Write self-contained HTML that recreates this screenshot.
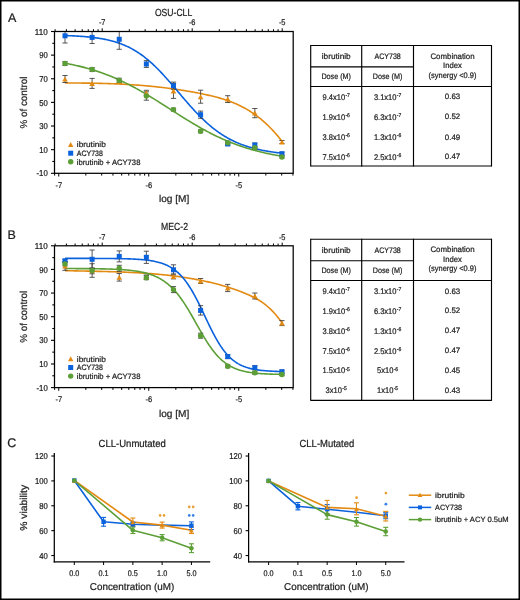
<!DOCTYPE html>
<html><head><meta charset="utf-8"><style>
html,body{margin:0;padding:0;background:#fff;overflow:hidden;width:520px;height:600px;}
svg{display:block;filter:blur(0.3px);}
text{font-family:"Liberation Sans",sans-serif;text-rendering:geometricPrecision;stroke:#222;stroke-width:0.22px;}
</style></head><body>
<svg width="520" height="600" viewBox="0 0 520 600">
<rect width="520" height="600" fill="#fff"/>
<rect x="0.75" y="0.75" width="518.5" height="598.5" fill="none" stroke="#000" stroke-width="1.5"/>
<text x="7.90" y="21.70" font-size="12.5" text-anchor="start" fill="#1a1a1a" >A</text>
<text x="154.90" y="15.80" font-size="10.3" text-anchor="start" fill="#1a1a1a" textLength="37.30" lengthAdjust="spacingAndGlyphs" >OSU-CLL</text>
<line x1="51.00" y1="173.30" x2="54.50" y2="173.30" stroke="#000" stroke-width="1.1"/>
<text x="47.70" y="176.45" font-size="8.6" text-anchor="end" fill="#1a1a1a" textLength="11.23" lengthAdjust="spacingAndGlyphs" >-10</text>
<line x1="52.30" y1="161.48" x2="54.50" y2="161.48" stroke="#000" stroke-width="1.1"/>
<line x1="51.00" y1="149.67" x2="54.50" y2="149.67" stroke="#000" stroke-width="1.1"/>
<text x="47.70" y="152.82" font-size="8.6" text-anchor="end" fill="#1a1a1a" textLength="8.56" lengthAdjust="spacingAndGlyphs" >10</text>
<line x1="52.30" y1="137.85" x2="54.50" y2="137.85" stroke="#000" stroke-width="1.1"/>
<line x1="51.00" y1="126.03" x2="54.50" y2="126.03" stroke="#000" stroke-width="1.1"/>
<text x="47.70" y="129.18" font-size="8.6" text-anchor="end" fill="#1a1a1a" textLength="8.56" lengthAdjust="spacingAndGlyphs" >30</text>
<line x1="52.30" y1="114.22" x2="54.50" y2="114.22" stroke="#000" stroke-width="1.1"/>
<line x1="51.00" y1="102.40" x2="54.50" y2="102.40" stroke="#000" stroke-width="1.1"/>
<text x="47.70" y="105.55" font-size="8.6" text-anchor="end" fill="#1a1a1a" textLength="8.56" lengthAdjust="spacingAndGlyphs" >50</text>
<line x1="52.30" y1="90.58" x2="54.50" y2="90.58" stroke="#000" stroke-width="1.1"/>
<line x1="51.00" y1="78.77" x2="54.50" y2="78.77" stroke="#000" stroke-width="1.1"/>
<text x="47.70" y="81.92" font-size="8.6" text-anchor="end" fill="#1a1a1a" textLength="8.56" lengthAdjust="spacingAndGlyphs" >70</text>
<line x1="52.30" y1="66.95" x2="54.50" y2="66.95" stroke="#000" stroke-width="1.1"/>
<line x1="51.00" y1="55.13" x2="54.50" y2="55.13" stroke="#000" stroke-width="1.1"/>
<text x="47.70" y="58.28" font-size="8.6" text-anchor="end" fill="#1a1a1a" textLength="8.56" lengthAdjust="spacingAndGlyphs" >90</text>
<line x1="52.30" y1="43.32" x2="54.50" y2="43.32" stroke="#000" stroke-width="1.1"/>
<line x1="51.00" y1="31.50" x2="54.50" y2="31.50" stroke="#000" stroke-width="1.1"/>
<text x="47.70" y="34.65" font-size="8.6" text-anchor="end" fill="#1a1a1a" textLength="12.84" lengthAdjust="spacingAndGlyphs" >110</text>
<line x1="55.14" y1="29.20" x2="55.14" y2="31.50" stroke="#000" stroke-width="1.0"/>
<line x1="66.39" y1="29.20" x2="66.39" y2="31.50" stroke="#000" stroke-width="1.0"/>
<line x1="75.11" y1="29.20" x2="75.11" y2="31.50" stroke="#000" stroke-width="1.0"/>
<line x1="82.23" y1="29.20" x2="82.23" y2="31.50" stroke="#000" stroke-width="1.0"/>
<line x1="88.26" y1="29.20" x2="88.26" y2="31.50" stroke="#000" stroke-width="1.0"/>
<line x1="93.48" y1="29.20" x2="93.48" y2="31.50" stroke="#000" stroke-width="1.0"/>
<line x1="98.08" y1="29.20" x2="98.08" y2="31.50" stroke="#000" stroke-width="1.0"/>
<line x1="102.20" y1="28.30" x2="102.20" y2="31.50" stroke="#000" stroke-width="1.0"/>
<line x1="129.29" y1="29.20" x2="129.29" y2="31.50" stroke="#000" stroke-width="1.0"/>
<line x1="145.14" y1="29.20" x2="145.14" y2="31.50" stroke="#000" stroke-width="1.0"/>
<line x1="156.39" y1="29.20" x2="156.39" y2="31.50" stroke="#000" stroke-width="1.0"/>
<line x1="165.11" y1="29.20" x2="165.11" y2="31.50" stroke="#000" stroke-width="1.0"/>
<line x1="172.23" y1="29.20" x2="172.23" y2="31.50" stroke="#000" stroke-width="1.0"/>
<line x1="178.26" y1="29.20" x2="178.26" y2="31.50" stroke="#000" stroke-width="1.0"/>
<line x1="183.48" y1="29.20" x2="183.48" y2="31.50" stroke="#000" stroke-width="1.0"/>
<line x1="188.08" y1="29.20" x2="188.08" y2="31.50" stroke="#000" stroke-width="1.0"/>
<line x1="192.20" y1="28.30" x2="192.20" y2="31.50" stroke="#000" stroke-width="1.0"/>
<line x1="219.29" y1="29.20" x2="219.29" y2="31.50" stroke="#000" stroke-width="1.0"/>
<line x1="235.14" y1="29.20" x2="235.14" y2="31.50" stroke="#000" stroke-width="1.0"/>
<line x1="246.39" y1="29.20" x2="246.39" y2="31.50" stroke="#000" stroke-width="1.0"/>
<line x1="255.11" y1="29.20" x2="255.11" y2="31.50" stroke="#000" stroke-width="1.0"/>
<line x1="262.23" y1="29.20" x2="262.23" y2="31.50" stroke="#000" stroke-width="1.0"/>
<line x1="268.26" y1="29.20" x2="268.26" y2="31.50" stroke="#000" stroke-width="1.0"/>
<line x1="273.48" y1="29.20" x2="273.48" y2="31.50" stroke="#000" stroke-width="1.0"/>
<line x1="278.08" y1="29.20" x2="278.08" y2="31.50" stroke="#000" stroke-width="1.0"/>
<line x1="282.20" y1="28.30" x2="282.20" y2="31.50" stroke="#000" stroke-width="1.0"/>
<text x="102.20" y="25.40" font-size="8.2" text-anchor="middle" fill="#1a1a1a" textLength="6.63" lengthAdjust="spacingAndGlyphs" >-7</text>
<text x="192.20" y="25.40" font-size="8.2" text-anchor="middle" fill="#1a1a1a" textLength="6.63" lengthAdjust="spacingAndGlyphs" >-6</text>
<text x="282.20" y="25.40" font-size="8.2" text-anchor="middle" fill="#1a1a1a" textLength="6.63" lengthAdjust="spacingAndGlyphs" >-5</text>
<line x1="54.63" y1="173.30" x2="54.63" y2="175.60" stroke="#000" stroke-width="1.0"/>
<line x1="58.75" y1="173.30" x2="58.75" y2="176.50" stroke="#000" stroke-width="1.0"/>
<line x1="85.84" y1="173.30" x2="85.84" y2="175.60" stroke="#000" stroke-width="1.0"/>
<line x1="101.69" y1="173.30" x2="101.69" y2="175.60" stroke="#000" stroke-width="1.0"/>
<line x1="112.94" y1="173.30" x2="112.94" y2="175.60" stroke="#000" stroke-width="1.0"/>
<line x1="121.66" y1="173.30" x2="121.66" y2="175.60" stroke="#000" stroke-width="1.0"/>
<line x1="128.78" y1="173.30" x2="128.78" y2="175.60" stroke="#000" stroke-width="1.0"/>
<line x1="134.81" y1="173.30" x2="134.81" y2="175.60" stroke="#000" stroke-width="1.0"/>
<line x1="140.03" y1="173.30" x2="140.03" y2="175.60" stroke="#000" stroke-width="1.0"/>
<line x1="144.63" y1="173.30" x2="144.63" y2="175.60" stroke="#000" stroke-width="1.0"/>
<line x1="148.75" y1="173.30" x2="148.75" y2="176.50" stroke="#000" stroke-width="1.0"/>
<line x1="175.84" y1="173.30" x2="175.84" y2="175.60" stroke="#000" stroke-width="1.0"/>
<line x1="191.69" y1="173.30" x2="191.69" y2="175.60" stroke="#000" stroke-width="1.0"/>
<line x1="202.94" y1="173.30" x2="202.94" y2="175.60" stroke="#000" stroke-width="1.0"/>
<line x1="211.66" y1="173.30" x2="211.66" y2="175.60" stroke="#000" stroke-width="1.0"/>
<line x1="218.78" y1="173.30" x2="218.78" y2="175.60" stroke="#000" stroke-width="1.0"/>
<line x1="224.81" y1="173.30" x2="224.81" y2="175.60" stroke="#000" stroke-width="1.0"/>
<line x1="230.03" y1="173.30" x2="230.03" y2="175.60" stroke="#000" stroke-width="1.0"/>
<line x1="234.63" y1="173.30" x2="234.63" y2="175.60" stroke="#000" stroke-width="1.0"/>
<line x1="238.75" y1="173.30" x2="238.75" y2="176.50" stroke="#000" stroke-width="1.0"/>
<line x1="265.84" y1="173.30" x2="265.84" y2="175.60" stroke="#000" stroke-width="1.0"/>
<line x1="281.69" y1="173.30" x2="281.69" y2="175.60" stroke="#000" stroke-width="1.0"/>
<line x1="292.94" y1="173.30" x2="292.94" y2="175.60" stroke="#000" stroke-width="1.0"/>
<text x="58.75" y="187.60" font-size="8.2" text-anchor="middle" fill="#1a1a1a" textLength="6.63" lengthAdjust="spacingAndGlyphs" >-7</text>
<text x="148.75" y="187.60" font-size="8.2" text-anchor="middle" fill="#1a1a1a" textLength="6.63" lengthAdjust="spacingAndGlyphs" >-6</text>
<text x="238.75" y="187.60" font-size="8.2" text-anchor="middle" fill="#1a1a1a" textLength="6.63" lengthAdjust="spacingAndGlyphs" >-5</text>
<text x="158.90" y="202.20" font-size="10" text-anchor="start" fill="#1a1a1a" textLength="30.30" lengthAdjust="spacingAndGlyphs" >log [M]</text>
<text transform="translate(27.3,102.50) rotate(-90)" font-size="10" text-anchor="middle" fill="#1a1a1a" textLength="52" lengthAdjust="spacingAndGlyphs">% of control</text>
<clipPath id="clip0"><rect x="54.5" y="31.5" width="238.70" height="141.80"/></clipPath><g clip-path="url(#clip0)">
<polyline points="65.00,83.06 66.00,83.05 67.00,83.05 68.00,83.05 69.00,83.05 70.00,83.04 71.00,83.04 72.00,83.04 73.00,83.04 74.00,83.05 75.00,83.05 76.00,83.05 77.00,83.05 78.00,83.06 79.00,83.06 80.00,83.07 81.00,83.07 82.00,83.08 83.00,83.09 84.00,83.10 85.00,83.11 86.00,83.12 87.00,83.13 88.00,83.14 89.00,83.15 90.00,83.17 91.00,83.18 92.00,83.20 93.00,83.22 94.00,83.23 95.00,83.25 96.00,83.27 97.00,83.29 98.00,83.31 99.00,83.34 100.00,83.36 101.00,83.38 102.00,83.41 103.00,83.44 104.00,83.46 105.00,83.49 106.00,83.52 107.00,83.55 108.00,83.59 109.00,83.62 110.00,83.65 111.00,83.69 112.00,83.73 113.00,83.76 114.00,83.80 115.00,83.84 116.00,83.89 117.00,83.93 118.00,83.97 119.00,84.02 120.00,84.07 121.00,84.12 122.00,84.17 123.00,84.22 124.00,84.27 125.00,84.32 126.00,84.38 127.00,84.44 128.00,84.49 129.00,84.55 130.00,84.61 131.00,84.68 132.00,84.74 133.00,84.81 134.00,84.87 135.00,84.94 136.00,85.01 137.00,85.09 138.00,85.16 139.00,85.23 140.00,85.31 141.00,85.39 142.00,85.47 143.00,85.55 144.00,85.63 145.00,85.72 146.00,85.81 147.00,85.89 148.00,85.99 149.00,86.08 150.00,86.17 151.00,86.27 152.00,86.36 153.00,86.46 154.00,86.56 155.00,86.67 156.00,86.77 157.00,86.88 158.00,86.99 159.00,87.10 160.00,87.21 161.00,87.32 162.00,87.44 163.00,87.56 164.00,87.68 165.00,87.80 166.00,87.92 167.00,88.05 168.00,88.18 169.00,88.31 170.00,88.44 171.00,88.57 172.00,88.71 173.00,88.85 174.00,88.99 175.00,89.13 176.00,89.27 177.00,89.42 178.00,89.57 179.00,89.72 180.00,89.87 181.00,90.03 182.00,90.19 183.00,90.35 184.00,90.51 185.00,90.68 186.00,90.84 187.00,91.01 188.00,91.18 189.00,91.36 190.00,91.53 191.00,91.71 192.00,91.89 193.00,92.08 194.00,92.26 195.00,92.45 196.00,92.64 197.00,92.83 198.00,93.03 199.00,93.23 200.00,93.43 201.00,93.63 202.00,93.84 203.00,94.04 204.00,94.26 205.00,94.47 206.00,94.68 207.00,94.90 208.00,95.12 209.00,95.35 210.00,95.58 211.00,95.81 212.00,96.05 213.00,96.29 214.00,96.54 215.00,96.79 216.00,97.05 217.00,97.31 218.00,97.58 219.00,97.86 220.00,98.14 221.00,98.43 222.00,98.73 223.00,99.04 224.00,99.35 225.00,99.67 226.00,100.00 227.00,100.34 228.00,100.69 229.00,101.05 230.00,101.41 231.00,101.79 232.00,102.18 233.00,102.58 234.00,102.99 235.00,103.41 236.00,103.84 237.00,104.28 238.00,104.74 239.00,105.20 240.00,105.69 241.00,106.18 242.00,106.69 243.00,107.21 244.00,107.74 245.00,108.29 246.00,108.85 247.00,109.43 248.00,110.02 249.00,110.63 250.00,111.26 251.00,111.90 252.00,112.55 253.00,113.23 254.00,113.92 255.00,114.62 256.00,115.35 257.00,116.09 258.00,116.85 259.00,117.63 260.00,118.43 261.00,119.24 262.00,120.08 263.00,120.93 264.00,121.81 265.00,122.70 266.00,123.62 267.00,124.56 268.00,125.51 269.00,126.49 270.00,127.49 271.00,128.51 272.00,129.56 273.00,130.62 274.00,131.71 275.00,132.83 276.00,133.96 277.00,135.12 278.00,136.31 279.00,137.52 280.00,138.75 281.00,140.01 282.00,141.29" fill="none" stroke="#E38A12" stroke-width="1.6" stroke-linejoin="round" stroke-linecap="butt"/>
<polyline points="65.00,35.55 66.00,35.58 67.00,35.62 68.00,35.65 69.00,35.69 70.00,35.73 71.00,35.78 72.00,35.82 73.00,35.87 74.00,35.92 75.00,35.97 76.00,36.03 77.00,36.08 78.00,36.14 79.00,36.21 80.00,36.27 81.00,36.34 82.00,36.41 83.00,36.49 84.00,36.57 85.00,36.65 86.00,36.74 87.00,36.83 88.00,36.92 89.00,37.02 90.00,37.12 91.00,37.23 92.00,37.34 93.00,37.46 94.00,37.58 95.00,37.71 96.00,37.85 97.00,37.99 98.00,38.13 99.00,38.29 100.00,38.45 101.00,38.61 102.00,38.79 103.00,38.97 104.00,39.16 105.00,39.35 106.00,39.56 107.00,39.77 108.00,39.99 109.00,40.23 110.00,40.47 111.00,40.72 112.00,40.98 113.00,41.25 114.00,41.54 115.00,41.83 116.00,42.14 117.00,42.46 118.00,42.79 119.00,43.13 120.00,43.48 121.00,43.85 122.00,44.24 123.00,44.63 124.00,45.04 125.00,45.47 126.00,45.91 127.00,46.36 128.00,46.84 129.00,47.32 130.00,47.83 131.00,48.35 132.00,48.88 133.00,49.44 134.00,50.01 135.00,50.60 136.00,51.21 137.00,51.83 138.00,52.48 139.00,53.14 140.00,53.82 141.00,54.52 142.00,55.24 143.00,55.98 144.00,56.73 145.00,57.51 146.00,58.30 147.00,59.11 148.00,59.94 149.00,60.79 150.00,61.66 151.00,62.55 152.00,63.45 153.00,64.38 154.00,65.32 155.00,66.27 156.00,67.25 157.00,68.24 158.00,69.24 159.00,70.26 160.00,71.30 161.00,72.35 162.00,73.41 163.00,74.49 164.00,75.58 165.00,76.68 166.00,77.79 167.00,78.91 168.00,80.05 169.00,81.19 170.00,82.34 171.00,83.49 172.00,84.65 173.00,85.82 174.00,86.99 175.00,88.17 176.00,89.35 177.00,90.53 178.00,91.71 179.00,92.89 180.00,94.08 181.00,95.26 182.00,96.43 183.00,97.61 184.00,98.78 185.00,99.94 186.00,101.10 187.00,102.26 188.00,103.40 189.00,104.54 190.00,105.67 191.00,106.79 192.00,107.90 193.00,109.00 194.00,110.09 195.00,111.17 196.00,112.23 197.00,113.28 198.00,114.32 199.00,115.35 200.00,116.36 201.00,117.35 202.00,118.33 203.00,119.30 204.00,120.25 205.00,121.19 206.00,122.11 207.00,123.01 208.00,123.90 209.00,124.77 210.00,125.62 211.00,126.46 212.00,127.28 213.00,128.08 214.00,128.87 215.00,129.64 216.00,130.39 217.00,131.13 218.00,131.85 219.00,132.56 220.00,133.24 221.00,133.92 222.00,134.57 223.00,135.21 224.00,135.84 225.00,136.45 226.00,137.04 227.00,137.62 228.00,138.18 229.00,138.73 230.00,139.26 231.00,139.78 232.00,140.29 233.00,140.78 234.00,141.26 235.00,141.73 236.00,142.18 237.00,142.62 238.00,143.05 239.00,143.46 240.00,143.87 241.00,144.26 242.00,144.64 243.00,145.01 244.00,145.37 245.00,145.71 246.00,146.05 247.00,146.38 248.00,146.70 249.00,147.00 250.00,147.30 251.00,147.59 252.00,147.87 253.00,148.14 254.00,148.40 255.00,148.66 256.00,148.91 257.00,149.14 258.00,149.38 259.00,149.60 260.00,149.82 261.00,150.03 262.00,150.23 263.00,150.43 264.00,150.62 265.00,150.80 266.00,150.98 267.00,151.15 268.00,151.32 269.00,151.48 270.00,151.64 271.00,151.79 272.00,151.93 273.00,152.07 274.00,152.21 275.00,152.34 276.00,152.47 277.00,152.59 278.00,152.71 279.00,152.83 280.00,152.94 281.00,153.05 282.00,153.15" fill="none" stroke="#0B62DD" stroke-width="1.6" stroke-linejoin="round" stroke-linecap="butt"/>
<polyline points="65.00,63.22 66.00,63.40 67.00,63.59 68.00,63.78 69.00,63.97 70.00,64.17 71.00,64.37 72.00,64.58 73.00,64.79 74.00,65.00 75.00,65.22 76.00,65.44 77.00,65.67 78.00,65.90 79.00,66.13 80.00,66.37 81.00,66.62 82.00,66.87 83.00,67.12 84.00,67.38 85.00,67.64 86.00,67.91 87.00,68.19 88.00,68.46 89.00,68.75 90.00,69.04 91.00,69.33 92.00,69.63 93.00,69.93 94.00,70.24 95.00,70.56 96.00,70.88 97.00,71.20 98.00,71.53 99.00,71.87 100.00,72.21 101.00,72.56 102.00,72.92 103.00,73.27 104.00,73.64 105.00,74.01 106.00,74.39 107.00,74.77 108.00,75.16 109.00,75.55 110.00,75.95 111.00,76.36 112.00,76.77 113.00,77.19 114.00,77.61 115.00,78.04 116.00,78.47 117.00,78.91 118.00,79.36 119.00,79.81 120.00,80.27 121.00,80.74 122.00,81.21 123.00,81.68 124.00,82.16 125.00,82.65 126.00,83.14 127.00,83.64 128.00,84.15 129.00,84.66 130.00,85.17 131.00,85.69 132.00,86.22 133.00,86.75 134.00,87.28 135.00,87.82 136.00,88.37 137.00,88.92 138.00,89.48 139.00,90.04 140.00,90.60 141.00,91.17 142.00,91.75 143.00,92.33 144.00,92.91 145.00,93.50 146.00,94.09 147.00,94.68 148.00,95.28 149.00,95.88 150.00,96.49 151.00,97.10 152.00,97.71 153.00,98.32 154.00,98.94 155.00,99.56 156.00,100.19 157.00,100.81 158.00,101.44 159.00,102.07 160.00,102.70 161.00,103.33 162.00,103.97 163.00,104.60 164.00,105.24 165.00,105.88 166.00,106.52 167.00,107.16 168.00,107.80 169.00,108.44 170.00,109.08 171.00,109.72 172.00,110.36 173.00,111.00 174.00,111.64 175.00,112.28 176.00,112.91 177.00,113.55 178.00,114.19 179.00,114.82 180.00,115.45 181.00,116.08 182.00,116.71 183.00,117.34 184.00,117.96 185.00,118.58 186.00,119.20 187.00,119.82 188.00,120.43 189.00,121.04 190.00,121.65 191.00,122.25 192.00,122.85 193.00,123.45 194.00,124.04 195.00,124.63 196.00,125.22 197.00,125.80 198.00,126.37 199.00,126.95 200.00,127.51 201.00,128.08 202.00,128.64 203.00,129.19 204.00,129.74 205.00,130.29 206.00,130.82 207.00,131.36 208.00,131.89 209.00,132.41 210.00,132.93 211.00,133.44 212.00,133.95 213.00,134.46 214.00,134.95 215.00,135.44 216.00,135.93 217.00,136.41 218.00,136.89 219.00,137.35 220.00,137.82 221.00,138.28 222.00,138.73 223.00,139.17 224.00,139.61 225.00,140.05 226.00,140.48 227.00,140.90 228.00,141.32 229.00,141.73 230.00,142.14 231.00,142.54 232.00,142.93 233.00,143.32 234.00,143.70 235.00,144.08 236.00,144.45 237.00,144.82 238.00,145.18 239.00,145.54 240.00,145.88 241.00,146.23 242.00,146.57 243.00,146.90 244.00,147.23 245.00,147.55 246.00,147.87 247.00,148.18 248.00,148.49 249.00,148.79 250.00,149.09 251.00,149.38 252.00,149.66 253.00,149.95 254.00,150.22 255.00,150.49 256.00,150.76 257.00,151.02 258.00,151.28 259.00,151.53 260.00,151.78 261.00,152.03 262.00,152.27 263.00,152.50 264.00,152.73 265.00,152.96 266.00,153.18 267.00,153.40 268.00,153.61 269.00,153.82 270.00,154.03 271.00,154.23 272.00,154.43 273.00,154.62 274.00,154.81 275.00,155.00 276.00,155.18 277.00,155.36 278.00,155.54 279.00,155.71 280.00,155.88 281.00,156.05 282.00,156.21" fill="none" stroke="#5C9F36" stroke-width="1.6" stroke-linejoin="round" stroke-linecap="butt"/>
<line x1="65.00" y1="75.50" x2="65.00" y2="82.50" stroke="#3a3a3a" stroke-width="0.85"/>
<line x1="62.40" y1="75.50" x2="67.60" y2="75.50" stroke="#3a3a3a" stroke-width="0.85"/>
<line x1="62.40" y1="82.50" x2="67.60" y2="82.50" stroke="#3a3a3a" stroke-width="0.85"/>
<line x1="92.12" y1="78.40" x2="92.12" y2="88.40" stroke="#3a3a3a" stroke-width="0.85"/>
<line x1="89.52" y1="78.40" x2="94.72" y2="78.40" stroke="#3a3a3a" stroke-width="0.85"/>
<line x1="89.52" y1="88.40" x2="94.72" y2="88.40" stroke="#3a3a3a" stroke-width="0.85"/>
<line x1="119.24" y1="80.00" x2="119.24" y2="83.00" stroke="#3a3a3a" stroke-width="0.85"/>
<line x1="116.64" y1="80.00" x2="121.84" y2="80.00" stroke="#3a3a3a" stroke-width="0.85"/>
<line x1="116.64" y1="83.00" x2="121.84" y2="83.00" stroke="#3a3a3a" stroke-width="0.85"/>
<line x1="146.36" y1="90.30" x2="146.36" y2="95.30" stroke="#3a3a3a" stroke-width="0.85"/>
<line x1="143.76" y1="90.30" x2="148.96" y2="90.30" stroke="#3a3a3a" stroke-width="0.85"/>
<line x1="143.76" y1="95.30" x2="148.96" y2="95.30" stroke="#3a3a3a" stroke-width="0.85"/>
<line x1="173.48" y1="83.40" x2="173.48" y2="98.40" stroke="#3a3a3a" stroke-width="0.85"/>
<line x1="170.88" y1="83.40" x2="176.08" y2="83.40" stroke="#3a3a3a" stroke-width="0.85"/>
<line x1="170.88" y1="98.40" x2="176.08" y2="98.40" stroke="#3a3a3a" stroke-width="0.85"/>
<line x1="200.60" y1="90.20" x2="200.60" y2="103.20" stroke="#3a3a3a" stroke-width="0.85"/>
<line x1="198.00" y1="90.20" x2="203.20" y2="90.20" stroke="#3a3a3a" stroke-width="0.85"/>
<line x1="198.00" y1="103.20" x2="203.20" y2="103.20" stroke="#3a3a3a" stroke-width="0.85"/>
<line x1="227.72" y1="95.70" x2="227.72" y2="102.50" stroke="#3a3a3a" stroke-width="0.85"/>
<line x1="225.12" y1="95.70" x2="230.32" y2="95.70" stroke="#3a3a3a" stroke-width="0.85"/>
<line x1="225.12" y1="102.50" x2="230.32" y2="102.50" stroke="#3a3a3a" stroke-width="0.85"/>
<line x1="254.84" y1="108.50" x2="254.84" y2="117.70" stroke="#3a3a3a" stroke-width="0.85"/>
<line x1="252.24" y1="108.50" x2="257.44" y2="108.50" stroke="#3a3a3a" stroke-width="0.85"/>
<line x1="252.24" y1="117.70" x2="257.44" y2="117.70" stroke="#3a3a3a" stroke-width="0.85"/>
<line x1="281.96" y1="140.50" x2="281.96" y2="143.50" stroke="#3a3a3a" stroke-width="0.85"/>
<line x1="279.36" y1="140.50" x2="284.56" y2="140.50" stroke="#3a3a3a" stroke-width="0.85"/>
<line x1="279.36" y1="143.50" x2="284.56" y2="143.50" stroke="#3a3a3a" stroke-width="0.85"/>
<line x1="65.00" y1="28.60" x2="65.00" y2="43.00" stroke="#3a3a3a" stroke-width="0.85"/>
<line x1="62.40" y1="28.60" x2="67.60" y2="28.60" stroke="#3a3a3a" stroke-width="0.85"/>
<line x1="62.40" y1="43.00" x2="67.60" y2="43.00" stroke="#3a3a3a" stroke-width="0.85"/>
<line x1="92.12" y1="31.30" x2="92.12" y2="43.50" stroke="#3a3a3a" stroke-width="0.85"/>
<line x1="89.52" y1="31.30" x2="94.72" y2="31.30" stroke="#3a3a3a" stroke-width="0.85"/>
<line x1="89.52" y1="43.50" x2="94.72" y2="43.50" stroke="#3a3a3a" stroke-width="0.85"/>
<line x1="119.24" y1="29.30" x2="119.24" y2="49.30" stroke="#3a3a3a" stroke-width="0.85"/>
<line x1="116.64" y1="29.30" x2="121.84" y2="29.30" stroke="#3a3a3a" stroke-width="0.85"/>
<line x1="116.64" y1="49.30" x2="121.84" y2="49.30" stroke="#3a3a3a" stroke-width="0.85"/>
<line x1="146.36" y1="60.60" x2="146.36" y2="67.40" stroke="#3a3a3a" stroke-width="0.85"/>
<line x1="143.76" y1="60.60" x2="148.96" y2="60.60" stroke="#3a3a3a" stroke-width="0.85"/>
<line x1="143.76" y1="67.40" x2="148.96" y2="67.40" stroke="#3a3a3a" stroke-width="0.85"/>
<line x1="173.48" y1="82.10" x2="173.48" y2="89.30" stroke="#3a3a3a" stroke-width="0.85"/>
<line x1="170.88" y1="82.10" x2="176.08" y2="82.10" stroke="#3a3a3a" stroke-width="0.85"/>
<line x1="170.88" y1="89.30" x2="176.08" y2="89.30" stroke="#3a3a3a" stroke-width="0.85"/>
<line x1="200.60" y1="111.10" x2="200.60" y2="118.30" stroke="#3a3a3a" stroke-width="0.85"/>
<line x1="198.00" y1="111.10" x2="203.20" y2="111.10" stroke="#3a3a3a" stroke-width="0.85"/>
<line x1="198.00" y1="118.30" x2="203.20" y2="118.30" stroke="#3a3a3a" stroke-width="0.85"/>
<line x1="227.72" y1="142.50" x2="227.72" y2="145.50" stroke="#3a3a3a" stroke-width="0.85"/>
<line x1="225.12" y1="142.50" x2="230.32" y2="142.50" stroke="#3a3a3a" stroke-width="0.85"/>
<line x1="225.12" y1="145.50" x2="230.32" y2="145.50" stroke="#3a3a3a" stroke-width="0.85"/>
<line x1="254.84" y1="143.00" x2="254.84" y2="147.00" stroke="#3a3a3a" stroke-width="0.85"/>
<line x1="252.24" y1="143.00" x2="257.44" y2="143.00" stroke="#3a3a3a" stroke-width="0.85"/>
<line x1="252.24" y1="147.00" x2="257.44" y2="147.00" stroke="#3a3a3a" stroke-width="0.85"/>
<line x1="281.96" y1="152.20" x2="281.96" y2="155.20" stroke="#3a3a3a" stroke-width="0.85"/>
<line x1="279.36" y1="152.20" x2="284.56" y2="152.20" stroke="#3a3a3a" stroke-width="0.85"/>
<line x1="279.36" y1="155.20" x2="284.56" y2="155.20" stroke="#3a3a3a" stroke-width="0.85"/>
<line x1="65.00" y1="61.50" x2="65.00" y2="65.50" stroke="#3a3a3a" stroke-width="0.85"/>
<line x1="62.40" y1="61.50" x2="67.60" y2="61.50" stroke="#3a3a3a" stroke-width="0.85"/>
<line x1="62.40" y1="65.50" x2="67.60" y2="65.50" stroke="#3a3a3a" stroke-width="0.85"/>
<line x1="92.12" y1="67.50" x2="92.12" y2="71.50" stroke="#3a3a3a" stroke-width="0.85"/>
<line x1="89.52" y1="67.50" x2="94.72" y2="67.50" stroke="#3a3a3a" stroke-width="0.85"/>
<line x1="89.52" y1="71.50" x2="94.72" y2="71.50" stroke="#3a3a3a" stroke-width="0.85"/>
<line x1="119.24" y1="78.20" x2="119.24" y2="82.60" stroke="#3a3a3a" stroke-width="0.85"/>
<line x1="116.64" y1="78.20" x2="121.84" y2="78.20" stroke="#3a3a3a" stroke-width="0.85"/>
<line x1="116.64" y1="82.60" x2="121.84" y2="82.60" stroke="#3a3a3a" stroke-width="0.85"/>
<line x1="146.36" y1="91.80" x2="146.36" y2="100.20" stroke="#3a3a3a" stroke-width="0.85"/>
<line x1="143.76" y1="91.80" x2="148.96" y2="91.80" stroke="#3a3a3a" stroke-width="0.85"/>
<line x1="143.76" y1="100.20" x2="148.96" y2="100.20" stroke="#3a3a3a" stroke-width="0.85"/>
<line x1="173.48" y1="108.10" x2="173.48" y2="111.10" stroke="#3a3a3a" stroke-width="0.85"/>
<line x1="170.88" y1="108.10" x2="176.08" y2="108.10" stroke="#3a3a3a" stroke-width="0.85"/>
<line x1="170.88" y1="111.10" x2="176.08" y2="111.10" stroke="#3a3a3a" stroke-width="0.85"/>
<line x1="200.60" y1="129.80" x2="200.60" y2="132.80" stroke="#3a3a3a" stroke-width="0.85"/>
<line x1="198.00" y1="129.80" x2="203.20" y2="129.80" stroke="#3a3a3a" stroke-width="0.85"/>
<line x1="198.00" y1="132.80" x2="203.20" y2="132.80" stroke="#3a3a3a" stroke-width="0.85"/>
<line x1="227.72" y1="141.20" x2="227.72" y2="144.20" stroke="#3a3a3a" stroke-width="0.85"/>
<line x1="225.12" y1="141.20" x2="230.32" y2="141.20" stroke="#3a3a3a" stroke-width="0.85"/>
<line x1="225.12" y1="144.20" x2="230.32" y2="144.20" stroke="#3a3a3a" stroke-width="0.85"/>
<line x1="254.84" y1="146.20" x2="254.84" y2="149.20" stroke="#3a3a3a" stroke-width="0.85"/>
<line x1="252.24" y1="146.20" x2="257.44" y2="146.20" stroke="#3a3a3a" stroke-width="0.85"/>
<line x1="252.24" y1="149.20" x2="257.44" y2="149.20" stroke="#3a3a3a" stroke-width="0.85"/>
<line x1="281.96" y1="156.00" x2="281.96" y2="158.00" stroke="#3a3a3a" stroke-width="0.85"/>
<line x1="279.36" y1="156.00" x2="284.56" y2="156.00" stroke="#3a3a3a" stroke-width="0.85"/>
<line x1="279.36" y1="158.00" x2="284.56" y2="158.00" stroke="#3a3a3a" stroke-width="0.85"/>
<polygon points="62.20,81.50 67.80,81.50 65.00,76.50" fill="#E38A12"/>
<polygon points="89.32,85.90 94.92,85.90 92.12,80.90" fill="#E38A12"/>
<polygon points="116.44,84.00 122.04,84.00 119.24,79.00" fill="#E38A12"/>
<polygon points="143.56,95.30 149.16,95.30 146.36,90.30" fill="#E38A12"/>
<polygon points="170.68,93.40 176.28,93.40 173.48,88.40" fill="#E38A12"/>
<polygon points="197.80,99.20 203.40,99.20 200.60,94.20" fill="#E38A12"/>
<polygon points="224.92,101.60 230.52,101.60 227.72,96.60" fill="#E38A12"/>
<polygon points="252.04,115.60 257.64,115.60 254.84,110.60" fill="#E38A12"/>
<polygon points="279.16,144.50 284.76,144.50 281.96,139.50" fill="#E38A12"/>
<rect x="62.50" y="33.30" width="5.0" height="5.0" fill="#0B62DD"/>
<rect x="89.62" y="34.90" width="5.0" height="5.0" fill="#0B62DD"/>
<rect x="116.74" y="36.80" width="5.0" height="5.0" fill="#0B62DD"/>
<rect x="143.86" y="61.50" width="5.0" height="5.0" fill="#0B62DD"/>
<rect x="170.98" y="83.20" width="5.0" height="5.0" fill="#0B62DD"/>
<rect x="198.10" y="112.20" width="5.0" height="5.0" fill="#0B62DD"/>
<rect x="225.22" y="141.50" width="5.0" height="5.0" fill="#0B62DD"/>
<rect x="252.34" y="142.50" width="5.0" height="5.0" fill="#0B62DD"/>
<rect x="279.46" y="151.20" width="5.0" height="5.0" fill="#0B62DD"/>
<circle cx="65.00" cy="63.50" r="2.7" fill="#5C9F36"/>
<circle cx="92.12" cy="69.50" r="2.7" fill="#5C9F36"/>
<circle cx="119.24" cy="80.40" r="2.7" fill="#5C9F36"/>
<circle cx="146.36" cy="96.00" r="2.7" fill="#5C9F36"/>
<circle cx="173.48" cy="109.60" r="2.7" fill="#5C9F36"/>
<circle cx="200.60" cy="131.30" r="2.7" fill="#5C9F36"/>
<circle cx="227.72" cy="142.70" r="2.7" fill="#5C9F36"/>
<circle cx="254.84" cy="147.70" r="2.7" fill="#5C9F36"/>
<circle cx="281.96" cy="157.00" r="2.7" fill="#5C9F36"/>
</g>
<rect x="54.5" y="31.5" width="238.70" height="141.80" fill="none" stroke="#000" stroke-width="1.25"/>
<polygon points="68.00,146.90 73.40,146.90 70.70,141.90" fill="#E38A12"/>
<rect x="68.20" y="150.70" width="5.0" height="5.0" fill="#0B62DD"/>
<circle cx="70.70" cy="161.80" r="2.7" fill="#5C9F36"/>
<text x="76.80" y="147.20" font-size="7.8" text-anchor="start" fill="#1a1a1a" textLength="29.00" lengthAdjust="spacingAndGlyphs" >ibrutinib</text>
<text x="76.80" y="155.90" font-size="7.8" text-anchor="start" fill="#1a1a1a" textLength="26.10" lengthAdjust="spacingAndGlyphs" >ACY738</text>
<text x="76.80" y="164.50" font-size="7.8" text-anchor="start" fill="#1a1a1a" textLength="63.60" lengthAdjust="spacingAndGlyphs" >ibrutinib + ACY738</text>
<text x="7.60" y="239.40" font-size="12.5" text-anchor="start" fill="#1a1a1a" >B</text>
<text x="161.10" y="230.10" font-size="10.3" text-anchor="start" fill="#1a1a1a" textLength="27.00" lengthAdjust="spacingAndGlyphs" >MEC-2</text>
<line x1="51.00" y1="387.60" x2="54.50" y2="387.60" stroke="#000" stroke-width="1.1"/>
<text x="47.70" y="390.75" font-size="8.6" text-anchor="end" fill="#1a1a1a" textLength="11.23" lengthAdjust="spacingAndGlyphs" >-10</text>
<line x1="52.30" y1="375.78" x2="54.50" y2="375.78" stroke="#000" stroke-width="1.1"/>
<line x1="51.00" y1="363.97" x2="54.50" y2="363.97" stroke="#000" stroke-width="1.1"/>
<text x="47.70" y="367.12" font-size="8.6" text-anchor="end" fill="#1a1a1a" textLength="8.56" lengthAdjust="spacingAndGlyphs" >10</text>
<line x1="52.30" y1="352.15" x2="54.50" y2="352.15" stroke="#000" stroke-width="1.1"/>
<line x1="51.00" y1="340.33" x2="54.50" y2="340.33" stroke="#000" stroke-width="1.1"/>
<text x="47.70" y="343.48" font-size="8.6" text-anchor="end" fill="#1a1a1a" textLength="8.56" lengthAdjust="spacingAndGlyphs" >30</text>
<line x1="52.30" y1="328.52" x2="54.50" y2="328.52" stroke="#000" stroke-width="1.1"/>
<line x1="51.00" y1="316.70" x2="54.50" y2="316.70" stroke="#000" stroke-width="1.1"/>
<text x="47.70" y="319.85" font-size="8.6" text-anchor="end" fill="#1a1a1a" textLength="8.56" lengthAdjust="spacingAndGlyphs" >50</text>
<line x1="52.30" y1="304.88" x2="54.50" y2="304.88" stroke="#000" stroke-width="1.1"/>
<line x1="51.00" y1="293.07" x2="54.50" y2="293.07" stroke="#000" stroke-width="1.1"/>
<text x="47.70" y="296.22" font-size="8.6" text-anchor="end" fill="#1a1a1a" textLength="8.56" lengthAdjust="spacingAndGlyphs" >70</text>
<line x1="52.30" y1="281.25" x2="54.50" y2="281.25" stroke="#000" stroke-width="1.1"/>
<line x1="51.00" y1="269.43" x2="54.50" y2="269.43" stroke="#000" stroke-width="1.1"/>
<text x="47.70" y="272.58" font-size="8.6" text-anchor="end" fill="#1a1a1a" textLength="8.56" lengthAdjust="spacingAndGlyphs" >90</text>
<line x1="52.30" y1="257.62" x2="54.50" y2="257.62" stroke="#000" stroke-width="1.1"/>
<line x1="51.00" y1="245.80" x2="54.50" y2="245.80" stroke="#000" stroke-width="1.1"/>
<text x="47.70" y="248.95" font-size="8.6" text-anchor="end" fill="#1a1a1a" textLength="12.84" lengthAdjust="spacingAndGlyphs" >110</text>
<line x1="55.14" y1="243.50" x2="55.14" y2="245.80" stroke="#000" stroke-width="1.0"/>
<line x1="66.39" y1="243.50" x2="66.39" y2="245.80" stroke="#000" stroke-width="1.0"/>
<line x1="75.11" y1="243.50" x2="75.11" y2="245.80" stroke="#000" stroke-width="1.0"/>
<line x1="82.23" y1="243.50" x2="82.23" y2="245.80" stroke="#000" stroke-width="1.0"/>
<line x1="88.26" y1="243.50" x2="88.26" y2="245.80" stroke="#000" stroke-width="1.0"/>
<line x1="93.48" y1="243.50" x2="93.48" y2="245.80" stroke="#000" stroke-width="1.0"/>
<line x1="98.08" y1="243.50" x2="98.08" y2="245.80" stroke="#000" stroke-width="1.0"/>
<line x1="102.20" y1="242.60" x2="102.20" y2="245.80" stroke="#000" stroke-width="1.0"/>
<line x1="129.29" y1="243.50" x2="129.29" y2="245.80" stroke="#000" stroke-width="1.0"/>
<line x1="145.14" y1="243.50" x2="145.14" y2="245.80" stroke="#000" stroke-width="1.0"/>
<line x1="156.39" y1="243.50" x2="156.39" y2="245.80" stroke="#000" stroke-width="1.0"/>
<line x1="165.11" y1="243.50" x2="165.11" y2="245.80" stroke="#000" stroke-width="1.0"/>
<line x1="172.23" y1="243.50" x2="172.23" y2="245.80" stroke="#000" stroke-width="1.0"/>
<line x1="178.26" y1="243.50" x2="178.26" y2="245.80" stroke="#000" stroke-width="1.0"/>
<line x1="183.48" y1="243.50" x2="183.48" y2="245.80" stroke="#000" stroke-width="1.0"/>
<line x1="188.08" y1="243.50" x2="188.08" y2="245.80" stroke="#000" stroke-width="1.0"/>
<line x1="192.20" y1="242.60" x2="192.20" y2="245.80" stroke="#000" stroke-width="1.0"/>
<line x1="219.29" y1="243.50" x2="219.29" y2="245.80" stroke="#000" stroke-width="1.0"/>
<line x1="235.14" y1="243.50" x2="235.14" y2="245.80" stroke="#000" stroke-width="1.0"/>
<line x1="246.39" y1="243.50" x2="246.39" y2="245.80" stroke="#000" stroke-width="1.0"/>
<line x1="255.11" y1="243.50" x2="255.11" y2="245.80" stroke="#000" stroke-width="1.0"/>
<line x1="262.23" y1="243.50" x2="262.23" y2="245.80" stroke="#000" stroke-width="1.0"/>
<line x1="268.26" y1="243.50" x2="268.26" y2="245.80" stroke="#000" stroke-width="1.0"/>
<line x1="273.48" y1="243.50" x2="273.48" y2="245.80" stroke="#000" stroke-width="1.0"/>
<line x1="278.08" y1="243.50" x2="278.08" y2="245.80" stroke="#000" stroke-width="1.0"/>
<line x1="282.20" y1="242.60" x2="282.20" y2="245.80" stroke="#000" stroke-width="1.0"/>
<text x="102.20" y="239.70" font-size="8.2" text-anchor="middle" fill="#1a1a1a" textLength="6.63" lengthAdjust="spacingAndGlyphs" >-7</text>
<text x="192.20" y="239.70" font-size="8.2" text-anchor="middle" fill="#1a1a1a" textLength="6.63" lengthAdjust="spacingAndGlyphs" >-6</text>
<text x="282.20" y="239.70" font-size="8.2" text-anchor="middle" fill="#1a1a1a" textLength="6.63" lengthAdjust="spacingAndGlyphs" >-5</text>
<line x1="54.63" y1="387.60" x2="54.63" y2="389.90" stroke="#000" stroke-width="1.0"/>
<line x1="58.75" y1="387.60" x2="58.75" y2="390.80" stroke="#000" stroke-width="1.0"/>
<line x1="85.84" y1="387.60" x2="85.84" y2="389.90" stroke="#000" stroke-width="1.0"/>
<line x1="101.69" y1="387.60" x2="101.69" y2="389.90" stroke="#000" stroke-width="1.0"/>
<line x1="112.94" y1="387.60" x2="112.94" y2="389.90" stroke="#000" stroke-width="1.0"/>
<line x1="121.66" y1="387.60" x2="121.66" y2="389.90" stroke="#000" stroke-width="1.0"/>
<line x1="128.78" y1="387.60" x2="128.78" y2="389.90" stroke="#000" stroke-width="1.0"/>
<line x1="134.81" y1="387.60" x2="134.81" y2="389.90" stroke="#000" stroke-width="1.0"/>
<line x1="140.03" y1="387.60" x2="140.03" y2="389.90" stroke="#000" stroke-width="1.0"/>
<line x1="144.63" y1="387.60" x2="144.63" y2="389.90" stroke="#000" stroke-width="1.0"/>
<line x1="148.75" y1="387.60" x2="148.75" y2="390.80" stroke="#000" stroke-width="1.0"/>
<line x1="175.84" y1="387.60" x2="175.84" y2="389.90" stroke="#000" stroke-width="1.0"/>
<line x1="191.69" y1="387.60" x2="191.69" y2="389.90" stroke="#000" stroke-width="1.0"/>
<line x1="202.94" y1="387.60" x2="202.94" y2="389.90" stroke="#000" stroke-width="1.0"/>
<line x1="211.66" y1="387.60" x2="211.66" y2="389.90" stroke="#000" stroke-width="1.0"/>
<line x1="218.78" y1="387.60" x2="218.78" y2="389.90" stroke="#000" stroke-width="1.0"/>
<line x1="224.81" y1="387.60" x2="224.81" y2="389.90" stroke="#000" stroke-width="1.0"/>
<line x1="230.03" y1="387.60" x2="230.03" y2="389.90" stroke="#000" stroke-width="1.0"/>
<line x1="234.63" y1="387.60" x2="234.63" y2="389.90" stroke="#000" stroke-width="1.0"/>
<line x1="238.75" y1="387.60" x2="238.75" y2="390.80" stroke="#000" stroke-width="1.0"/>
<line x1="265.84" y1="387.60" x2="265.84" y2="389.90" stroke="#000" stroke-width="1.0"/>
<line x1="281.69" y1="387.60" x2="281.69" y2="389.90" stroke="#000" stroke-width="1.0"/>
<line x1="292.94" y1="387.60" x2="292.94" y2="389.90" stroke="#000" stroke-width="1.0"/>
<text x="58.75" y="401.90" font-size="8.2" text-anchor="middle" fill="#1a1a1a" textLength="6.63" lengthAdjust="spacingAndGlyphs" >-7</text>
<text x="148.75" y="401.90" font-size="8.2" text-anchor="middle" fill="#1a1a1a" textLength="6.63" lengthAdjust="spacingAndGlyphs" >-6</text>
<text x="238.75" y="401.90" font-size="8.2" text-anchor="middle" fill="#1a1a1a" textLength="6.63" lengthAdjust="spacingAndGlyphs" >-5</text>
<text x="158.90" y="416.50" font-size="10" text-anchor="start" fill="#1a1a1a" textLength="30.30" lengthAdjust="spacingAndGlyphs" >log [M]</text>
<text transform="translate(27.3,316.80) rotate(-90)" font-size="10" text-anchor="middle" fill="#1a1a1a" textLength="52" lengthAdjust="spacingAndGlyphs">% of control</text>
<clipPath id="clip214"><rect x="54.5" y="245.8" width="238.70" height="141.80"/></clipPath><g clip-path="url(#clip214)">
<polyline points="65.00,270.61 66.00,270.63 67.00,270.66 68.00,270.69 69.00,270.71 70.00,270.74 71.00,270.76 72.00,270.79 73.00,270.81 74.00,270.83 75.00,270.86 76.00,270.88 77.00,270.90 78.00,270.92 79.00,270.95 80.00,270.97 81.00,270.99 82.00,271.01 83.00,271.03 84.00,271.05 85.00,271.07 86.00,271.09 87.00,271.11 88.00,271.14 89.00,271.16 90.00,271.18 91.00,271.20 92.00,271.22 93.00,271.24 94.00,271.26 95.00,271.28 96.00,271.31 97.00,271.33 98.00,271.35 99.00,271.37 100.00,271.40 101.00,271.42 102.00,271.44 103.00,271.47 104.00,271.49 105.00,271.52 106.00,271.54 107.00,271.57 108.00,271.60 109.00,271.63 110.00,271.65 111.00,271.68 112.00,271.71 113.00,271.74 114.00,271.77 115.00,271.80 116.00,271.84 117.00,271.87 118.00,271.90 119.00,271.94 120.00,271.97 121.00,272.01 122.00,272.05 123.00,272.09 124.00,272.13 125.00,272.17 126.00,272.21 127.00,272.25 128.00,272.29 129.00,272.34 130.00,272.39 131.00,272.43 132.00,272.48 133.00,272.53 134.00,272.58 135.00,272.63 136.00,272.69 137.00,272.74 138.00,272.80 139.00,272.86 140.00,272.92 141.00,272.98 142.00,273.04 143.00,273.10 144.00,273.17 145.00,273.24 146.00,273.31 147.00,273.38 148.00,273.45 149.00,273.52 150.00,273.60 151.00,273.67 152.00,273.75 153.00,273.83 154.00,273.92 155.00,274.00 156.00,274.09 157.00,274.17 158.00,274.27 159.00,274.36 160.00,274.45 161.00,274.55 162.00,274.65 163.00,274.75 164.00,274.85 165.00,274.95 166.00,275.06 167.00,275.17 168.00,275.28 169.00,275.39 170.00,275.51 171.00,275.63 172.00,275.75 173.00,275.87 174.00,276.00 175.00,276.12 176.00,276.25 177.00,276.39 178.00,276.52 179.00,276.66 180.00,276.80 181.00,276.94 182.00,277.09 183.00,277.23 184.00,277.39 185.00,277.54 186.00,277.69 187.00,277.85 188.00,278.02 189.00,278.18 190.00,278.35 191.00,278.52 192.00,278.69 193.00,278.87 194.00,279.05 195.00,279.23 196.00,279.41 197.00,279.60 198.00,279.79 199.00,279.98 200.00,280.18 201.00,280.38 202.00,280.59 203.00,280.79 204.00,281.00 205.00,281.22 206.00,281.43 207.00,281.65 208.00,281.88 209.00,282.10 210.00,282.33 211.00,282.57 212.00,282.80 213.00,283.05 214.00,283.29 215.00,283.54 216.00,283.80 217.00,284.05 218.00,284.32 219.00,284.58 220.00,284.85 221.00,285.13 222.00,285.41 223.00,285.69 224.00,285.98 225.00,286.28 226.00,286.58 227.00,286.88 228.00,287.19 229.00,287.51 230.00,287.83 231.00,288.15 232.00,288.48 233.00,288.82 234.00,289.16 235.00,289.51 236.00,289.86 237.00,290.22 238.00,290.58 239.00,290.95 240.00,291.33 241.00,291.71 242.00,292.10 243.00,292.50 244.00,292.90 245.00,293.31 246.00,293.72 247.00,294.14 248.00,294.58 249.00,295.02 250.00,295.47 251.00,295.94 252.00,296.41 253.00,296.91 254.00,297.42 255.00,297.94 256.00,298.49 257.00,299.05 258.00,299.63 259.00,300.24 260.00,300.87 261.00,301.52 262.00,302.20 263.00,302.90 264.00,303.63 265.00,304.39 266.00,305.18 267.00,306.00 268.00,306.85 269.00,307.74 270.00,308.66 271.00,309.61 272.00,310.60 273.00,311.63 274.00,312.70 275.00,313.81 276.00,314.96 277.00,316.15 278.00,317.39 279.00,318.67 280.00,319.99 281.00,321.37 282.00,322.79" fill="none" stroke="#E38A12" stroke-width="1.6" stroke-linejoin="round" stroke-linecap="butt"/>
<polyline points="65.00,258.40 66.00,258.40 67.00,258.40 68.00,258.40 69.00,258.40 70.00,258.40 71.00,258.40 72.00,258.40 73.00,258.40 74.00,258.40 75.00,258.40 76.00,258.41 77.00,258.41 78.00,258.41 79.00,258.41 80.00,258.41 81.00,258.41 82.00,258.41 83.00,258.41 84.00,258.41 85.00,258.42 86.00,258.42 87.00,258.42 88.00,258.42 89.00,258.42 90.00,258.42 91.00,258.43 92.00,258.43 93.00,258.43 94.00,258.44 95.00,258.44 96.00,258.44 97.00,258.44 98.00,258.45 99.00,258.45 100.00,258.46 101.00,258.46 102.00,258.47 103.00,258.47 104.00,258.48 105.00,258.48 106.00,258.49 107.00,258.50 108.00,258.51 109.00,258.51 110.00,258.52 111.00,258.53 112.00,258.54 113.00,258.55 114.00,258.56 115.00,258.58 116.00,258.59 117.00,258.61 118.00,258.62 119.00,258.64 120.00,258.66 121.00,258.67 122.00,258.70 123.00,258.72 124.00,258.74 125.00,258.77 126.00,258.79 127.00,258.82 128.00,258.85 129.00,258.89 130.00,258.92 131.00,258.96 132.00,259.00 133.00,259.05 134.00,259.10 135.00,259.15 136.00,259.20 137.00,259.26 138.00,259.33 139.00,259.39 140.00,259.47 141.00,259.54 142.00,259.63 143.00,259.72 144.00,259.81 145.00,259.92 146.00,260.03 147.00,260.15 148.00,260.27 149.00,260.41 150.00,260.55 151.00,260.71 152.00,260.88 153.00,261.06 154.00,261.25 155.00,261.45 156.00,261.67 157.00,261.91 158.00,262.16 159.00,262.42 160.00,262.71 161.00,263.02 162.00,263.35 163.00,263.70 164.00,264.07 165.00,264.47 166.00,264.89 167.00,265.34 168.00,265.83 169.00,266.34 170.00,266.89 171.00,267.47 172.00,268.09 173.00,268.75 174.00,269.45 175.00,270.19 176.00,270.97 177.00,271.80 178.00,272.68 179.00,273.61 180.00,274.59 181.00,275.62 182.00,276.71 183.00,277.85 184.00,279.05 185.00,280.31 186.00,281.63 187.00,283.00 188.00,284.44 189.00,285.94 190.00,287.49 191.00,289.11 192.00,290.78 193.00,292.51 194.00,294.29 195.00,296.13 196.00,298.01 197.00,299.93 198.00,301.90 199.00,303.90 200.00,305.94 201.00,308.00 202.00,310.09 203.00,312.19 204.00,314.30 205.00,316.42 206.00,318.54 207.00,320.65 208.00,322.74 209.00,324.82 210.00,326.87 211.00,328.90 212.00,330.88 213.00,332.83 214.00,334.74 215.00,336.60 216.00,338.41 217.00,340.16 218.00,341.86 219.00,343.50 220.00,345.08 221.00,346.60 222.00,348.05 223.00,349.45 224.00,350.78 225.00,352.05 226.00,353.27 227.00,354.42 228.00,355.51 229.00,356.55 230.00,357.53 231.00,358.45 232.00,359.33 233.00,360.15 234.00,360.93 235.00,361.66 236.00,362.34 237.00,362.99 238.00,363.59 239.00,364.16 240.00,364.69 241.00,365.18 242.00,365.65 243.00,366.08 244.00,366.49 245.00,366.86 246.00,367.22 247.00,367.54 248.00,367.85 249.00,368.13 250.00,368.40 251.00,368.65 252.00,368.88 253.00,369.09 254.00,369.29 255.00,369.48 256.00,369.65 257.00,369.81 258.00,369.96 259.00,370.09 260.00,370.22 261.00,370.34 262.00,370.45 263.00,370.55 264.00,370.65 265.00,370.74 266.00,370.82 267.00,370.89 268.00,370.96 269.00,371.03 270.00,371.09 271.00,371.15 272.00,371.20 273.00,371.25 274.00,371.29 275.00,371.33 276.00,371.37 277.00,371.41 278.00,371.44 279.00,371.47 280.00,371.50 281.00,371.52 282.00,371.55" fill="none" stroke="#0B62DD" stroke-width="1.6" stroke-linejoin="round" stroke-linecap="butt"/>
<polyline points="65.00,268.54 66.00,268.55 67.00,268.55 68.00,268.55 69.00,268.55 70.00,268.56 71.00,268.56 72.00,268.56 73.00,268.57 74.00,268.57 75.00,268.57 76.00,268.58 77.00,268.58 78.00,268.59 79.00,268.59 80.00,268.60 81.00,268.61 82.00,268.61 83.00,268.62 84.00,268.63 85.00,268.63 86.00,268.64 87.00,268.65 88.00,268.66 89.00,268.67 90.00,268.68 91.00,268.69 92.00,268.70 93.00,268.71 94.00,268.72 95.00,268.74 96.00,268.75 97.00,268.77 98.00,268.78 99.00,268.80 100.00,268.82 101.00,268.84 102.00,268.86 103.00,268.88 104.00,268.90 105.00,268.92 106.00,268.95 107.00,268.98 108.00,269.01 109.00,269.04 110.00,269.07 111.00,269.10 112.00,269.14 113.00,269.18 114.00,269.22 115.00,269.26 116.00,269.31 117.00,269.35 118.00,269.41 119.00,269.46 120.00,269.52 121.00,269.58 122.00,269.64 123.00,269.71 124.00,269.79 125.00,269.86 126.00,269.94 127.00,270.03 128.00,270.12 129.00,270.22 130.00,270.32 131.00,270.43 132.00,270.55 133.00,270.67 134.00,270.80 135.00,270.94 136.00,271.08 137.00,271.24 138.00,271.40 139.00,271.57 140.00,271.76 141.00,271.95 142.00,272.16 143.00,272.37 144.00,272.60 145.00,272.85 146.00,273.10 147.00,273.37 148.00,273.66 149.00,273.97 150.00,274.29 151.00,274.63 152.00,274.98 153.00,275.36 154.00,275.76 155.00,276.18 156.00,276.63 157.00,277.09 158.00,277.59 159.00,278.11 160.00,278.66 161.00,279.23 162.00,279.84 163.00,280.48 164.00,281.15 165.00,281.85 166.00,282.59 167.00,283.37 168.00,284.18 169.00,285.03 170.00,285.92 171.00,286.85 172.00,287.82 173.00,288.84 174.00,289.90 175.00,291.00 176.00,292.14 177.00,293.33 178.00,294.56 179.00,295.84 180.00,297.16 181.00,298.52 182.00,299.93 183.00,301.38 184.00,302.87 185.00,304.40 186.00,305.96 187.00,307.56 188.00,309.20 189.00,310.86 190.00,312.55 191.00,314.27 192.00,316.00 193.00,317.76 194.00,319.52 195.00,321.30 196.00,323.08 197.00,324.86 198.00,326.65 199.00,328.42 200.00,330.18 201.00,331.93 202.00,333.66 203.00,335.37 204.00,337.05 205.00,338.70 206.00,340.32 207.00,341.90 208.00,343.44 209.00,344.95 210.00,346.41 211.00,347.83 212.00,349.20 213.00,350.52 214.00,351.80 215.00,353.03 216.00,354.21 217.00,355.35 218.00,356.43 219.00,357.47 220.00,358.46 221.00,359.40 222.00,360.30 223.00,361.15 224.00,361.96 225.00,362.73 226.00,363.46 227.00,364.15 228.00,364.80 229.00,365.42 230.00,366.00 231.00,366.55 232.00,367.06 233.00,367.55 234.00,368.00 235.00,368.43 236.00,368.84 237.00,369.21 238.00,369.57 239.00,369.90 240.00,370.22 241.00,370.51 242.00,370.78 243.00,371.04 244.00,371.28 245.00,371.50 246.00,371.71 247.00,371.91 248.00,372.09 249.00,372.26 250.00,372.42 251.00,372.57 252.00,372.71 253.00,372.84 254.00,372.96 255.00,373.08 256.00,373.18 257.00,373.28 258.00,373.37 259.00,373.46 260.00,373.54 261.00,373.61 262.00,373.68 263.00,373.75 264.00,373.81 265.00,373.86 266.00,373.92 267.00,373.96 268.00,374.01 269.00,374.05 270.00,374.09 271.00,374.13 272.00,374.16 273.00,374.20 274.00,374.22 275.00,374.25 276.00,374.28 277.00,374.30 278.00,374.32 279.00,374.35 280.00,374.36 281.00,374.38 282.00,374.40" fill="none" stroke="#5C9F36" stroke-width="1.6" stroke-linejoin="round" stroke-linecap="butt"/>
<line x1="65.00" y1="261.50" x2="65.00" y2="270.30" stroke="#3a3a3a" stroke-width="0.85"/>
<line x1="62.40" y1="261.50" x2="67.60" y2="261.50" stroke="#3a3a3a" stroke-width="0.85"/>
<line x1="62.40" y1="270.30" x2="67.60" y2="270.30" stroke="#3a3a3a" stroke-width="0.85"/>
<line x1="92.12" y1="267.80" x2="92.12" y2="273.80" stroke="#3a3a3a" stroke-width="0.85"/>
<line x1="89.52" y1="267.80" x2="94.72" y2="267.80" stroke="#3a3a3a" stroke-width="0.85"/>
<line x1="89.52" y1="273.80" x2="94.72" y2="273.80" stroke="#3a3a3a" stroke-width="0.85"/>
<line x1="119.24" y1="273.50" x2="119.24" y2="281.10" stroke="#3a3a3a" stroke-width="0.85"/>
<line x1="116.64" y1="273.50" x2="121.84" y2="273.50" stroke="#3a3a3a" stroke-width="0.85"/>
<line x1="116.64" y1="281.10" x2="121.84" y2="281.10" stroke="#3a3a3a" stroke-width="0.85"/>
<line x1="146.36" y1="275.00" x2="146.36" y2="279.00" stroke="#3a3a3a" stroke-width="0.85"/>
<line x1="143.76" y1="275.00" x2="148.96" y2="275.00" stroke="#3a3a3a" stroke-width="0.85"/>
<line x1="143.76" y1="279.00" x2="148.96" y2="279.00" stroke="#3a3a3a" stroke-width="0.85"/>
<line x1="173.48" y1="273.90" x2="173.48" y2="278.90" stroke="#3a3a3a" stroke-width="0.85"/>
<line x1="170.88" y1="273.90" x2="176.08" y2="273.90" stroke="#3a3a3a" stroke-width="0.85"/>
<line x1="170.88" y1="278.90" x2="176.08" y2="278.90" stroke="#3a3a3a" stroke-width="0.85"/>
<line x1="200.60" y1="278.50" x2="200.60" y2="283.50" stroke="#3a3a3a" stroke-width="0.85"/>
<line x1="198.00" y1="278.50" x2="203.20" y2="278.50" stroke="#3a3a3a" stroke-width="0.85"/>
<line x1="198.00" y1="283.50" x2="203.20" y2="283.50" stroke="#3a3a3a" stroke-width="0.85"/>
<line x1="227.72" y1="284.40" x2="227.72" y2="291.60" stroke="#3a3a3a" stroke-width="0.85"/>
<line x1="225.12" y1="284.40" x2="230.32" y2="284.40" stroke="#3a3a3a" stroke-width="0.85"/>
<line x1="225.12" y1="291.60" x2="230.32" y2="291.60" stroke="#3a3a3a" stroke-width="0.85"/>
<line x1="254.84" y1="293.00" x2="254.84" y2="299.00" stroke="#3a3a3a" stroke-width="0.85"/>
<line x1="252.24" y1="293.00" x2="257.44" y2="293.00" stroke="#3a3a3a" stroke-width="0.85"/>
<line x1="252.24" y1="299.00" x2="257.44" y2="299.00" stroke="#3a3a3a" stroke-width="0.85"/>
<line x1="281.96" y1="320.60" x2="281.96" y2="325.60" stroke="#3a3a3a" stroke-width="0.85"/>
<line x1="279.36" y1="320.60" x2="284.56" y2="320.60" stroke="#3a3a3a" stroke-width="0.85"/>
<line x1="279.36" y1="325.60" x2="284.56" y2="325.60" stroke="#3a3a3a" stroke-width="0.85"/>
<line x1="65.00" y1="259.30" x2="65.00" y2="262.30" stroke="#3a3a3a" stroke-width="0.85"/>
<line x1="62.40" y1="259.30" x2="67.60" y2="259.30" stroke="#3a3a3a" stroke-width="0.85"/>
<line x1="62.40" y1="262.30" x2="67.60" y2="262.30" stroke="#3a3a3a" stroke-width="0.85"/>
<line x1="92.12" y1="250.00" x2="92.12" y2="268.60" stroke="#3a3a3a" stroke-width="0.85"/>
<line x1="89.52" y1="250.00" x2="94.72" y2="250.00" stroke="#3a3a3a" stroke-width="0.85"/>
<line x1="89.52" y1="268.60" x2="94.72" y2="268.60" stroke="#3a3a3a" stroke-width="0.85"/>
<line x1="119.24" y1="250.90" x2="119.24" y2="261.90" stroke="#3a3a3a" stroke-width="0.85"/>
<line x1="116.64" y1="250.90" x2="121.84" y2="250.90" stroke="#3a3a3a" stroke-width="0.85"/>
<line x1="116.64" y1="261.90" x2="121.84" y2="261.90" stroke="#3a3a3a" stroke-width="0.85"/>
<line x1="146.36" y1="251.20" x2="146.36" y2="263.40" stroke="#3a3a3a" stroke-width="0.85"/>
<line x1="143.76" y1="251.20" x2="148.96" y2="251.20" stroke="#3a3a3a" stroke-width="0.85"/>
<line x1="143.76" y1="263.40" x2="148.96" y2="263.40" stroke="#3a3a3a" stroke-width="0.85"/>
<line x1="173.48" y1="264.80" x2="173.48" y2="274.80" stroke="#3a3a3a" stroke-width="0.85"/>
<line x1="170.88" y1="264.80" x2="176.08" y2="264.80" stroke="#3a3a3a" stroke-width="0.85"/>
<line x1="170.88" y1="274.80" x2="176.08" y2="274.80" stroke="#3a3a3a" stroke-width="0.85"/>
<line x1="200.60" y1="305.70" x2="200.60" y2="315.10" stroke="#3a3a3a" stroke-width="0.85"/>
<line x1="198.00" y1="305.70" x2="203.20" y2="305.70" stroke="#3a3a3a" stroke-width="0.85"/>
<line x1="198.00" y1="315.10" x2="203.20" y2="315.10" stroke="#3a3a3a" stroke-width="0.85"/>
<line x1="227.72" y1="354.60" x2="227.72" y2="358.60" stroke="#3a3a3a" stroke-width="0.85"/>
<line x1="225.12" y1="354.60" x2="230.32" y2="354.60" stroke="#3a3a3a" stroke-width="0.85"/>
<line x1="225.12" y1="358.60" x2="230.32" y2="358.60" stroke="#3a3a3a" stroke-width="0.85"/>
<line x1="254.84" y1="365.70" x2="254.84" y2="369.70" stroke="#3a3a3a" stroke-width="0.85"/>
<line x1="252.24" y1="365.70" x2="257.44" y2="365.70" stroke="#3a3a3a" stroke-width="0.85"/>
<line x1="252.24" y1="369.70" x2="257.44" y2="369.70" stroke="#3a3a3a" stroke-width="0.85"/>
<line x1="281.96" y1="370.20" x2="281.96" y2="373.20" stroke="#3a3a3a" stroke-width="0.85"/>
<line x1="279.36" y1="370.20" x2="284.56" y2="370.20" stroke="#3a3a3a" stroke-width="0.85"/>
<line x1="279.36" y1="373.20" x2="284.56" y2="373.20" stroke="#3a3a3a" stroke-width="0.85"/>
<line x1="65.00" y1="261.90" x2="65.00" y2="265.90" stroke="#3a3a3a" stroke-width="0.85"/>
<line x1="62.40" y1="261.90" x2="67.60" y2="261.90" stroke="#3a3a3a" stroke-width="0.85"/>
<line x1="62.40" y1="265.90" x2="67.60" y2="265.90" stroke="#3a3a3a" stroke-width="0.85"/>
<line x1="92.12" y1="263.70" x2="92.12" y2="277.30" stroke="#3a3a3a" stroke-width="0.85"/>
<line x1="89.52" y1="263.70" x2="94.72" y2="263.70" stroke="#3a3a3a" stroke-width="0.85"/>
<line x1="89.52" y1="277.30" x2="94.72" y2="277.30" stroke="#3a3a3a" stroke-width="0.85"/>
<line x1="119.24" y1="265.30" x2="119.24" y2="271.30" stroke="#3a3a3a" stroke-width="0.85"/>
<line x1="116.64" y1="265.30" x2="121.84" y2="265.30" stroke="#3a3a3a" stroke-width="0.85"/>
<line x1="116.64" y1="271.30" x2="121.84" y2="271.30" stroke="#3a3a3a" stroke-width="0.85"/>
<line x1="146.36" y1="275.70" x2="146.36" y2="279.70" stroke="#3a3a3a" stroke-width="0.85"/>
<line x1="143.76" y1="275.70" x2="148.96" y2="275.70" stroke="#3a3a3a" stroke-width="0.85"/>
<line x1="143.76" y1="279.70" x2="148.96" y2="279.70" stroke="#3a3a3a" stroke-width="0.85"/>
<line x1="173.48" y1="286.60" x2="173.48" y2="292.60" stroke="#3a3a3a" stroke-width="0.85"/>
<line x1="170.88" y1="286.60" x2="176.08" y2="286.60" stroke="#3a3a3a" stroke-width="0.85"/>
<line x1="170.88" y1="292.60" x2="176.08" y2="292.60" stroke="#3a3a3a" stroke-width="0.85"/>
<line x1="200.60" y1="333.20" x2="200.60" y2="338.20" stroke="#3a3a3a" stroke-width="0.85"/>
<line x1="198.00" y1="333.20" x2="203.20" y2="333.20" stroke="#3a3a3a" stroke-width="0.85"/>
<line x1="198.00" y1="338.20" x2="203.20" y2="338.20" stroke="#3a3a3a" stroke-width="0.85"/>
<line x1="227.72" y1="364.80" x2="227.72" y2="367.80" stroke="#3a3a3a" stroke-width="0.85"/>
<line x1="225.12" y1="364.80" x2="230.32" y2="364.80" stroke="#3a3a3a" stroke-width="0.85"/>
<line x1="225.12" y1="367.80" x2="230.32" y2="367.80" stroke="#3a3a3a" stroke-width="0.85"/>
<line x1="254.84" y1="371.30" x2="254.84" y2="374.30" stroke="#3a3a3a" stroke-width="0.85"/>
<line x1="252.24" y1="371.30" x2="257.44" y2="371.30" stroke="#3a3a3a" stroke-width="0.85"/>
<line x1="252.24" y1="374.30" x2="257.44" y2="374.30" stroke="#3a3a3a" stroke-width="0.85"/>
<line x1="281.96" y1="373.30" x2="281.96" y2="375.70" stroke="#3a3a3a" stroke-width="0.85"/>
<line x1="279.36" y1="373.30" x2="284.56" y2="373.30" stroke="#3a3a3a" stroke-width="0.85"/>
<line x1="279.36" y1="375.70" x2="284.56" y2="375.70" stroke="#3a3a3a" stroke-width="0.85"/>
<polygon points="62.20,268.40 67.80,268.40 65.00,263.40" fill="#E38A12"/>
<polygon points="89.32,273.30 94.92,273.30 92.12,268.30" fill="#E38A12"/>
<polygon points="116.44,279.80 122.04,279.80 119.24,274.80" fill="#E38A12"/>
<polygon points="143.56,279.50 149.16,279.50 146.36,274.50" fill="#E38A12"/>
<polygon points="170.68,278.90 176.28,278.90 173.48,273.90" fill="#E38A12"/>
<polygon points="197.80,283.50 203.40,283.50 200.60,278.50" fill="#E38A12"/>
<polygon points="224.92,290.50 230.52,290.50 227.72,285.50" fill="#E38A12"/>
<polygon points="252.04,298.50 257.64,298.50 254.84,293.50" fill="#E38A12"/>
<polygon points="279.16,325.60 284.76,325.60 281.96,320.60" fill="#E38A12"/>
<rect x="62.50" y="258.30" width="5.0" height="5.0" fill="#0B62DD"/>
<rect x="89.62" y="256.80" width="5.0" height="5.0" fill="#0B62DD"/>
<rect x="116.74" y="253.90" width="5.0" height="5.0" fill="#0B62DD"/>
<rect x="143.86" y="254.80" width="5.0" height="5.0" fill="#0B62DD"/>
<rect x="170.98" y="267.30" width="5.0" height="5.0" fill="#0B62DD"/>
<rect x="198.10" y="307.90" width="5.0" height="5.0" fill="#0B62DD"/>
<rect x="225.22" y="354.10" width="5.0" height="5.0" fill="#0B62DD"/>
<rect x="252.34" y="365.20" width="5.0" height="5.0" fill="#0B62DD"/>
<rect x="279.46" y="369.20" width="5.0" height="5.0" fill="#0B62DD"/>
<circle cx="65.00" cy="263.90" r="2.7" fill="#5C9F36"/>
<circle cx="92.12" cy="270.50" r="2.7" fill="#5C9F36"/>
<circle cx="119.24" cy="268.30" r="2.7" fill="#5C9F36"/>
<circle cx="146.36" cy="277.70" r="2.7" fill="#5C9F36"/>
<circle cx="173.48" cy="289.60" r="2.7" fill="#5C9F36"/>
<circle cx="200.60" cy="335.70" r="2.7" fill="#5C9F36"/>
<circle cx="227.72" cy="366.30" r="2.7" fill="#5C9F36"/>
<circle cx="254.84" cy="372.80" r="2.7" fill="#5C9F36"/>
<circle cx="281.96" cy="374.50" r="2.7" fill="#5C9F36"/>
</g>
<rect x="54.5" y="245.8" width="238.70" height="141.80" fill="none" stroke="#000" stroke-width="1.25"/>
<polygon points="68.00,361.20 73.40,361.20 70.70,356.20" fill="#E38A12"/>
<rect x="68.20" y="365.00" width="5.0" height="5.0" fill="#0B62DD"/>
<circle cx="70.70" cy="376.10" r="2.7" fill="#5C9F36"/>
<text x="76.80" y="361.50" font-size="7.8" text-anchor="start" fill="#1a1a1a" textLength="29.00" lengthAdjust="spacingAndGlyphs" >ibrutinib</text>
<text x="76.80" y="370.20" font-size="7.8" text-anchor="start" fill="#1a1a1a" textLength="26.10" lengthAdjust="spacingAndGlyphs" >ACY738</text>
<text x="76.80" y="378.80" font-size="7.8" text-anchor="start" fill="#1a1a1a" textLength="63.60" lengthAdjust="spacingAndGlyphs" >ibrutinib + ACY738</text>
<line x1="310.70" y1="45.50" x2="491.50" y2="45.50" stroke="#000" stroke-width="1.15"/>
<line x1="310.70" y1="166.00" x2="491.50" y2="166.00" stroke="#000" stroke-width="1.15"/>
<line x1="310.70" y1="66.80" x2="413.50" y2="66.80" stroke="#000" stroke-width="1.15"/>
<line x1="310.70" y1="86.50" x2="491.50" y2="86.50" stroke="#000" stroke-width="1.15"/>
<line x1="310.70" y1="45.00" x2="310.70" y2="166.50" stroke="#000" stroke-width="1.15"/>
<line x1="361.70" y1="45.00" x2="361.70" y2="166.50" stroke="#000" stroke-width="1.15"/>
<line x1="413.50" y1="45.00" x2="413.50" y2="166.50" stroke="#000" stroke-width="1.15"/>
<line x1="491.50" y1="45.00" x2="491.50" y2="166.50" stroke="#000" stroke-width="1.15"/>
<text x="336.20" y="58.80" font-size="8" text-anchor="middle" fill="#1a1a1a" textLength="29.00" lengthAdjust="spacingAndGlyphs" >ibrutinib</text>
<text x="387.60" y="58.80" font-size="8" text-anchor="middle" fill="#1a1a1a" textLength="26.30" lengthAdjust="spacingAndGlyphs" >ACY738</text>
<text x="336.20" y="79.20" font-size="8" text-anchor="middle" fill="#1a1a1a" textLength="29.60" lengthAdjust="spacingAndGlyphs" >Dose (M)</text>
<text x="387.60" y="79.20" font-size="8" text-anchor="middle" fill="#1a1a1a" textLength="29.60" lengthAdjust="spacingAndGlyphs" >Dose (M)</text>
<text x="452.50" y="58.70" font-size="8" text-anchor="middle" fill="#1a1a1a" textLength="44.20" lengthAdjust="spacingAndGlyphs" >Combination</text>
<text x="452.50" y="68.40" font-size="8" text-anchor="middle" fill="#1a1a1a" textLength="18.80" lengthAdjust="spacingAndGlyphs" >Index</text>
<text x="452.50" y="77.90" font-size="8" text-anchor="middle" fill="#1a1a1a" textLength="47.80" lengthAdjust="spacingAndGlyphs" >(synergy &lt;0.9)</text>
<text x="322.51" y="99.80" font-size="8.2" fill="#1a1a1a" textLength="22.59" lengthAdjust="spacingAndGlyphs">9.4x10</text>
<text x="345.40" y="96.90" font-size="5.4" fill="#1a1a1a" textLength="4.50" lengthAdjust="spacingAndGlyphs">-7</text>
<text x="373.91" y="99.80" font-size="8.2" fill="#1a1a1a" textLength="22.59" lengthAdjust="spacingAndGlyphs">3.1x10</text>
<text x="396.80" y="96.90" font-size="5.4" fill="#1a1a1a" textLength="4.50" lengthAdjust="spacingAndGlyphs">-7</text>
<text x="452.50" y="99.20" font-size="7.9" text-anchor="middle" fill="#1a1a1a" >0.63</text>
<text x="322.51" y="120.00" font-size="8.2" fill="#1a1a1a" textLength="22.59" lengthAdjust="spacingAndGlyphs">1.9x10</text>
<text x="345.40" y="117.10" font-size="5.4" fill="#1a1a1a" textLength="4.50" lengthAdjust="spacingAndGlyphs">-6</text>
<text x="373.91" y="120.00" font-size="8.2" fill="#1a1a1a" textLength="22.59" lengthAdjust="spacingAndGlyphs">6.3x10</text>
<text x="396.80" y="117.10" font-size="5.4" fill="#1a1a1a" textLength="4.50" lengthAdjust="spacingAndGlyphs">-7</text>
<text x="452.50" y="119.40" font-size="7.9" text-anchor="middle" fill="#1a1a1a" >0.52</text>
<text x="322.51" y="140.10" font-size="8.2" fill="#1a1a1a" textLength="22.59" lengthAdjust="spacingAndGlyphs">3.8x10</text>
<text x="345.40" y="137.20" font-size="5.4" fill="#1a1a1a" textLength="4.50" lengthAdjust="spacingAndGlyphs">-6</text>
<text x="373.91" y="140.10" font-size="8.2" fill="#1a1a1a" textLength="22.59" lengthAdjust="spacingAndGlyphs">1.3x10</text>
<text x="396.80" y="137.20" font-size="5.4" fill="#1a1a1a" textLength="4.50" lengthAdjust="spacingAndGlyphs">-6</text>
<text x="452.50" y="139.50" font-size="7.9" text-anchor="middle" fill="#1a1a1a" >0.49</text>
<text x="322.51" y="159.80" font-size="8.2" fill="#1a1a1a" textLength="22.59" lengthAdjust="spacingAndGlyphs">7.5x10</text>
<text x="345.40" y="156.90" font-size="5.4" fill="#1a1a1a" textLength="4.50" lengthAdjust="spacingAndGlyphs">-6</text>
<text x="373.91" y="159.80" font-size="8.2" fill="#1a1a1a" textLength="22.59" lengthAdjust="spacingAndGlyphs">2.5x10</text>
<text x="396.80" y="156.90" font-size="5.4" fill="#1a1a1a" textLength="4.50" lengthAdjust="spacingAndGlyphs">-6</text>
<text x="452.50" y="159.20" font-size="7.9" text-anchor="middle" fill="#1a1a1a" >0.47</text>
<line x1="310.70" y1="239.20" x2="491.50" y2="239.20" stroke="#000" stroke-width="1.15"/>
<line x1="310.70" y1="400.30" x2="491.50" y2="400.30" stroke="#000" stroke-width="1.15"/>
<line x1="310.70" y1="260.70" x2="413.50" y2="260.70" stroke="#000" stroke-width="1.15"/>
<line x1="310.70" y1="280.50" x2="491.50" y2="280.50" stroke="#000" stroke-width="1.15"/>
<line x1="310.70" y1="238.70" x2="310.70" y2="400.80" stroke="#000" stroke-width="1.15"/>
<line x1="361.70" y1="238.70" x2="361.70" y2="400.80" stroke="#000" stroke-width="1.15"/>
<line x1="413.50" y1="238.70" x2="413.50" y2="400.80" stroke="#000" stroke-width="1.15"/>
<line x1="491.50" y1="238.70" x2="491.50" y2="400.80" stroke="#000" stroke-width="1.15"/>
<text x="336.20" y="253.00" font-size="8" text-anchor="middle" fill="#1a1a1a" textLength="29.00" lengthAdjust="spacingAndGlyphs" >ibrutinib</text>
<text x="387.60" y="253.00" font-size="8" text-anchor="middle" fill="#1a1a1a" textLength="26.30" lengthAdjust="spacingAndGlyphs" >ACY738</text>
<text x="336.20" y="273.20" font-size="8" text-anchor="middle" fill="#1a1a1a" textLength="29.60" lengthAdjust="spacingAndGlyphs" >Dose (M)</text>
<text x="387.60" y="273.20" font-size="8" text-anchor="middle" fill="#1a1a1a" textLength="29.60" lengthAdjust="spacingAndGlyphs" >Dose (M)</text>
<text x="452.50" y="252.30" font-size="8" text-anchor="middle" fill="#1a1a1a" textLength="44.20" lengthAdjust="spacingAndGlyphs" >Combination</text>
<text x="452.50" y="261.80" font-size="8" text-anchor="middle" fill="#1a1a1a" textLength="18.80" lengthAdjust="spacingAndGlyphs" >Index</text>
<text x="452.50" y="271.40" font-size="8" text-anchor="middle" fill="#1a1a1a" textLength="47.80" lengthAdjust="spacingAndGlyphs" >(synergy &lt;0.9)</text>
<text x="322.51" y="294.30" font-size="8.2" fill="#1a1a1a" textLength="22.59" lengthAdjust="spacingAndGlyphs">9.4x10</text>
<text x="345.40" y="291.40" font-size="5.4" fill="#1a1a1a" textLength="4.50" lengthAdjust="spacingAndGlyphs">-7</text>
<text x="373.91" y="294.30" font-size="8.2" fill="#1a1a1a" textLength="22.59" lengthAdjust="spacingAndGlyphs">3.1x10</text>
<text x="396.80" y="291.40" font-size="5.4" fill="#1a1a1a" textLength="4.50" lengthAdjust="spacingAndGlyphs">-7</text>
<text x="452.50" y="293.70" font-size="7.9" text-anchor="middle" fill="#1a1a1a" >0.63</text>
<text x="322.51" y="313.80" font-size="8.2" fill="#1a1a1a" textLength="22.59" lengthAdjust="spacingAndGlyphs">1.9x10</text>
<text x="345.40" y="310.90" font-size="5.4" fill="#1a1a1a" textLength="4.50" lengthAdjust="spacingAndGlyphs">-6</text>
<text x="373.91" y="313.80" font-size="8.2" fill="#1a1a1a" textLength="22.59" lengthAdjust="spacingAndGlyphs">6.3x10</text>
<text x="396.80" y="310.90" font-size="5.4" fill="#1a1a1a" textLength="4.50" lengthAdjust="spacingAndGlyphs">-7</text>
<text x="452.50" y="313.20" font-size="7.9" text-anchor="middle" fill="#1a1a1a" >0.52</text>
<text x="322.51" y="333.70" font-size="8.2" fill="#1a1a1a" textLength="22.59" lengthAdjust="spacingAndGlyphs">3.8x10</text>
<text x="345.40" y="330.80" font-size="5.4" fill="#1a1a1a" textLength="4.50" lengthAdjust="spacingAndGlyphs">-6</text>
<text x="373.91" y="333.70" font-size="8.2" fill="#1a1a1a" textLength="22.59" lengthAdjust="spacingAndGlyphs">1.3x10</text>
<text x="396.80" y="330.80" font-size="5.4" fill="#1a1a1a" textLength="4.50" lengthAdjust="spacingAndGlyphs">-6</text>
<text x="452.50" y="333.10" font-size="7.9" text-anchor="middle" fill="#1a1a1a" >0.47</text>
<text x="322.51" y="353.50" font-size="8.2" fill="#1a1a1a" textLength="22.59" lengthAdjust="spacingAndGlyphs">7.5x10</text>
<text x="345.40" y="350.60" font-size="5.4" fill="#1a1a1a" textLength="4.50" lengthAdjust="spacingAndGlyphs">-6</text>
<text x="373.91" y="353.50" font-size="8.2" fill="#1a1a1a" textLength="22.59" lengthAdjust="spacingAndGlyphs">2.5x10</text>
<text x="396.80" y="350.60" font-size="5.4" fill="#1a1a1a" textLength="4.50" lengthAdjust="spacingAndGlyphs">-6</text>
<text x="452.50" y="352.90" font-size="7.9" text-anchor="middle" fill="#1a1a1a" >0.47</text>
<text x="322.51" y="373.40" font-size="8.2" fill="#1a1a1a" textLength="22.59" lengthAdjust="spacingAndGlyphs">1.5x10</text>
<text x="345.40" y="370.50" font-size="5.4" fill="#1a1a1a" textLength="4.50" lengthAdjust="spacingAndGlyphs">-5</text>
<text x="377.00" y="373.40" font-size="8.2" fill="#1a1a1a" textLength="16.39" lengthAdjust="spacingAndGlyphs">5x10</text>
<text x="393.70" y="370.50" font-size="5.4" fill="#1a1a1a" textLength="4.50" lengthAdjust="spacingAndGlyphs">-6</text>
<text x="452.50" y="372.80" font-size="7.9" text-anchor="middle" fill="#1a1a1a" >0.45</text>
<text x="325.60" y="393.30" font-size="8.2" fill="#1a1a1a" textLength="16.39" lengthAdjust="spacingAndGlyphs">3x10</text>
<text x="342.30" y="390.40" font-size="5.4" fill="#1a1a1a" textLength="4.50" lengthAdjust="spacingAndGlyphs">-5</text>
<text x="377.00" y="393.30" font-size="8.2" fill="#1a1a1a" textLength="16.39" lengthAdjust="spacingAndGlyphs">1x10</text>
<text x="393.70" y="390.40" font-size="5.4" fill="#1a1a1a" textLength="4.50" lengthAdjust="spacingAndGlyphs">-5</text>
<text x="452.50" y="392.70" font-size="7.9" text-anchor="middle" fill="#1a1a1a" >0.43</text>
<text x="7.20" y="446.50" font-size="12.5" text-anchor="start" fill="#1a1a1a" >C</text>
<text x="98.60" y="447.00" font-size="10.3" text-anchor="start" fill="#1a1a1a" textLength="67.20" lengthAdjust="spacingAndGlyphs" >CLL-Unmutated</text>
<line x1="54.30" y1="453.00" x2="54.30" y2="562.40" stroke="#000" stroke-width="1.25"/>
<line x1="53.70" y1="561.80" x2="210.20" y2="561.80" stroke="#000" stroke-width="1.25"/>
<line x1="51.30" y1="456.02" x2="54.30" y2="456.02" stroke="#000" stroke-width="1.1"/>
<text x="47.80" y="459.17" font-size="8.6" text-anchor="end" fill="#1a1a1a" textLength="12.84" lengthAdjust="spacingAndGlyphs" >120</text>
<line x1="51.30" y1="480.90" x2="54.30" y2="480.90" stroke="#000" stroke-width="1.1"/>
<text x="47.80" y="484.05" font-size="8.6" text-anchor="end" fill="#1a1a1a" textLength="12.84" lengthAdjust="spacingAndGlyphs" >100</text>
<line x1="51.30" y1="505.78" x2="54.30" y2="505.78" stroke="#000" stroke-width="1.1"/>
<text x="47.80" y="508.93" font-size="8.6" text-anchor="end" fill="#1a1a1a" textLength="8.56" lengthAdjust="spacingAndGlyphs" >80</text>
<line x1="51.30" y1="530.65" x2="54.30" y2="530.65" stroke="#000" stroke-width="1.1"/>
<text x="47.80" y="533.80" font-size="8.6" text-anchor="end" fill="#1a1a1a" textLength="8.56" lengthAdjust="spacingAndGlyphs" >60</text>
<line x1="51.30" y1="555.53" x2="54.30" y2="555.53" stroke="#000" stroke-width="1.1"/>
<text x="47.80" y="558.68" font-size="8.6" text-anchor="end" fill="#1a1a1a" textLength="8.56" lengthAdjust="spacingAndGlyphs" >40</text>
<line x1="74.30" y1="561.80" x2="74.30" y2="565.00" stroke="#000" stroke-width="1.0"/>
<text x="74.30" y="575.90" font-size="8.2" text-anchor="middle" fill="#1a1a1a" textLength="10.09" lengthAdjust="spacingAndGlyphs" >0.0</text>
<line x1="103.58" y1="561.80" x2="103.58" y2="565.00" stroke="#000" stroke-width="1.0"/>
<text x="103.58" y="575.90" font-size="8.2" text-anchor="middle" fill="#1a1a1a" textLength="10.09" lengthAdjust="spacingAndGlyphs" >0.1</text>
<line x1="132.86" y1="561.80" x2="132.86" y2="565.00" stroke="#000" stroke-width="1.0"/>
<text x="132.86" y="575.90" font-size="8.2" text-anchor="middle" fill="#1a1a1a" textLength="10.09" lengthAdjust="spacingAndGlyphs" >0.5</text>
<line x1="162.14" y1="561.80" x2="162.14" y2="565.00" stroke="#000" stroke-width="1.0"/>
<text x="162.14" y="575.90" font-size="8.2" text-anchor="middle" fill="#1a1a1a" textLength="10.09" lengthAdjust="spacingAndGlyphs" >1.0</text>
<line x1="191.42" y1="561.80" x2="191.42" y2="565.00" stroke="#000" stroke-width="1.0"/>
<text x="191.42" y="575.90" font-size="8.2" text-anchor="middle" fill="#1a1a1a" textLength="10.09" lengthAdjust="spacingAndGlyphs" >5.0</text>
<text x="89.80" y="590.00" font-size="10" text-anchor="start" fill="#1a1a1a" textLength="84.50" lengthAdjust="spacingAndGlyphs" >Concentration (uM)</text>
<text transform="translate(27.4,507.8) rotate(-90)" font-size="10" text-anchor="middle" fill="#1a1a1a" textLength="45.8" lengthAdjust="spacingAndGlyphs">% viability</text>
<polyline points="74.30,480.50 103.58,521.80 132.86,524.20 162.14,525.10 191.42,525.70" fill="none" stroke="#0B62DD" stroke-width="1.6" stroke-linejoin="round" stroke-linecap="round"/>
<polyline points="74.30,480.50 132.86,522.00 162.14,525.10 191.42,530.30" fill="none" stroke="#E38A12" stroke-width="1.6" stroke-linejoin="round" stroke-linecap="round"/>
<polyline points="74.30,480.50 132.86,530.30 162.14,537.70 191.42,548.20" fill="none" stroke="#5C9F36" stroke-width="1.6" stroke-linejoin="round" stroke-linecap="round"/>
<line x1="103.58" y1="517.40" x2="103.58" y2="526.20" stroke="#0B62DD" stroke-width="1.1"/>
<line x1="101.08" y1="517.40" x2="106.08" y2="517.40" stroke="#0B62DD" stroke-width="1.1"/>
<line x1="101.08" y1="526.20" x2="106.08" y2="526.20" stroke="#0B62DD" stroke-width="1.1"/>
<line x1="132.86" y1="522.20" x2="132.86" y2="526.20" stroke="#0B62DD" stroke-width="1.1"/>
<line x1="130.36" y1="522.20" x2="135.36" y2="522.20" stroke="#0B62DD" stroke-width="1.1"/>
<line x1="130.36" y1="526.20" x2="135.36" y2="526.20" stroke="#0B62DD" stroke-width="1.1"/>
<line x1="191.42" y1="521.90" x2="191.42" y2="529.50" stroke="#0B62DD" stroke-width="1.1"/>
<line x1="188.92" y1="521.90" x2="193.92" y2="521.90" stroke="#0B62DD" stroke-width="1.1"/>
<line x1="188.92" y1="529.50" x2="193.92" y2="529.50" stroke="#0B62DD" stroke-width="1.1"/>
<line x1="132.86" y1="518.00" x2="132.86" y2="526.00" stroke="#E38A12" stroke-width="1.1"/>
<line x1="130.36" y1="518.00" x2="135.36" y2="518.00" stroke="#E38A12" stroke-width="1.1"/>
<line x1="130.36" y1="526.00" x2="135.36" y2="526.00" stroke="#E38A12" stroke-width="1.1"/>
<line x1="162.14" y1="522.10" x2="162.14" y2="528.10" stroke="#E38A12" stroke-width="1.1"/>
<line x1="159.64" y1="522.10" x2="164.64" y2="522.10" stroke="#E38A12" stroke-width="1.1"/>
<line x1="159.64" y1="528.10" x2="164.64" y2="528.10" stroke="#E38A12" stroke-width="1.1"/>
<line x1="191.42" y1="527.10" x2="191.42" y2="533.50" stroke="#E38A12" stroke-width="1.1"/>
<line x1="188.92" y1="527.10" x2="193.92" y2="527.10" stroke="#E38A12" stroke-width="1.1"/>
<line x1="188.92" y1="533.50" x2="193.92" y2="533.50" stroke="#E38A12" stroke-width="1.1"/>
<line x1="132.86" y1="527.10" x2="132.86" y2="533.50" stroke="#5C9F36" stroke-width="1.1"/>
<line x1="130.36" y1="527.10" x2="135.36" y2="527.10" stroke="#5C9F36" stroke-width="1.1"/>
<line x1="130.36" y1="533.50" x2="135.36" y2="533.50" stroke="#5C9F36" stroke-width="1.1"/>
<line x1="162.14" y1="534.60" x2="162.14" y2="540.80" stroke="#5C9F36" stroke-width="1.1"/>
<line x1="159.64" y1="534.60" x2="164.64" y2="534.60" stroke="#5C9F36" stroke-width="1.1"/>
<line x1="159.64" y1="540.80" x2="164.64" y2="540.80" stroke="#5C9F36" stroke-width="1.1"/>
<line x1="191.42" y1="543.80" x2="191.42" y2="552.60" stroke="#5C9F36" stroke-width="1.1"/>
<line x1="188.92" y1="543.80" x2="193.92" y2="543.80" stroke="#5C9F36" stroke-width="1.1"/>
<line x1="188.92" y1="552.60" x2="193.92" y2="552.60" stroke="#5C9F36" stroke-width="1.1"/>
<rect x="72.10" y="478.30" width="4.4" height="4.4" fill="#0B62DD"/>
<rect x="101.38" y="519.60" width="4.4" height="4.4" fill="#0B62DD"/>
<rect x="130.66" y="522.00" width="4.4" height="4.4" fill="#0B62DD"/>
<rect x="189.22" y="523.50" width="4.4" height="4.4" fill="#0B62DD"/>
<polygon points="71.90,482.65 76.70,482.65 74.30,478.35" fill="#E38A12"/>
<polygon points="130.46,524.15 135.26,524.15 132.86,519.85" fill="#E38A12"/>
<polygon points="159.74,527.25 164.54,527.25 162.14,522.95" fill="#E38A12"/>
<polygon points="189.02,532.45 193.82,532.45 191.42,528.15" fill="#E38A12"/>
<circle cx="74.30" cy="480.50" r="2.3" fill="#5C9F36"/>
<circle cx="132.86" cy="530.30" r="2.3" fill="#5C9F36"/>
<circle cx="162.14" cy="537.70" r="2.3" fill="#5C9F36"/>
<circle cx="191.42" cy="548.20" r="2.3" fill="#5C9F36"/>
<circle cx="160.15" cy="515.40" r="1.3" fill="#E9A035"/>
<circle cx="164.05" cy="515.40" r="1.3" fill="#E9A035"/>
<circle cx="189.25" cy="506.90" r="1.3" fill="#E9A035"/>
<circle cx="193.15" cy="506.90" r="1.3" fill="#E9A035"/>
<circle cx="189.25" cy="515.40" r="1.3" fill="#3482E4"/>
<circle cx="193.15" cy="515.40" r="1.3" fill="#3482E4"/>
<text x="299.50" y="447.00" font-size="10.3" text-anchor="start" fill="#1a1a1a" textLength="54.80" lengthAdjust="spacingAndGlyphs" >CLL-Mutated</text>
<line x1="248.60" y1="453.00" x2="248.60" y2="562.40" stroke="#000" stroke-width="1.25"/>
<line x1="248.00" y1="561.80" x2="404.50" y2="561.80" stroke="#000" stroke-width="1.25"/>
<line x1="245.60" y1="456.02" x2="248.60" y2="456.02" stroke="#000" stroke-width="1.1"/>
<text x="242.10" y="459.17" font-size="8.6" text-anchor="end" fill="#1a1a1a" textLength="12.84" lengthAdjust="spacingAndGlyphs" >120</text>
<line x1="245.60" y1="480.90" x2="248.60" y2="480.90" stroke="#000" stroke-width="1.1"/>
<text x="242.10" y="484.05" font-size="8.6" text-anchor="end" fill="#1a1a1a" textLength="12.84" lengthAdjust="spacingAndGlyphs" >100</text>
<line x1="245.60" y1="505.78" x2="248.60" y2="505.78" stroke="#000" stroke-width="1.1"/>
<text x="242.10" y="508.93" font-size="8.6" text-anchor="end" fill="#1a1a1a" textLength="8.56" lengthAdjust="spacingAndGlyphs" >80</text>
<line x1="245.60" y1="530.65" x2="248.60" y2="530.65" stroke="#000" stroke-width="1.1"/>
<text x="242.10" y="533.80" font-size="8.6" text-anchor="end" fill="#1a1a1a" textLength="8.56" lengthAdjust="spacingAndGlyphs" >60</text>
<line x1="245.60" y1="555.53" x2="248.60" y2="555.53" stroke="#000" stroke-width="1.1"/>
<text x="242.10" y="558.68" font-size="8.6" text-anchor="end" fill="#1a1a1a" textLength="8.56" lengthAdjust="spacingAndGlyphs" >40</text>
<line x1="268.60" y1="561.80" x2="268.60" y2="565.00" stroke="#000" stroke-width="1.0"/>
<text x="268.60" y="575.90" font-size="8.2" text-anchor="middle" fill="#1a1a1a" textLength="10.09" lengthAdjust="spacingAndGlyphs" >0.0</text>
<line x1="297.88" y1="561.80" x2="297.88" y2="565.00" stroke="#000" stroke-width="1.0"/>
<text x="297.88" y="575.90" font-size="8.2" text-anchor="middle" fill="#1a1a1a" textLength="10.09" lengthAdjust="spacingAndGlyphs" >0.1</text>
<line x1="327.16" y1="561.80" x2="327.16" y2="565.00" stroke="#000" stroke-width="1.0"/>
<text x="327.16" y="575.90" font-size="8.2" text-anchor="middle" fill="#1a1a1a" textLength="10.09" lengthAdjust="spacingAndGlyphs" >0.5</text>
<line x1="356.44" y1="561.80" x2="356.44" y2="565.00" stroke="#000" stroke-width="1.0"/>
<text x="356.44" y="575.90" font-size="8.2" text-anchor="middle" fill="#1a1a1a" textLength="10.09" lengthAdjust="spacingAndGlyphs" >1.0</text>
<line x1="385.72" y1="561.80" x2="385.72" y2="565.00" stroke="#000" stroke-width="1.0"/>
<text x="385.72" y="575.90" font-size="8.2" text-anchor="middle" fill="#1a1a1a" textLength="10.09" lengthAdjust="spacingAndGlyphs" >5.0</text>
<text x="284.10" y="590.00" font-size="10" text-anchor="start" fill="#1a1a1a" textLength="84.50" lengthAdjust="spacingAndGlyphs" >Concentration (uM)</text>
<polyline points="268.60,480.90 297.88,506.20 327.16,509.20 356.44,512.30 385.72,515.70" fill="none" stroke="#0B62DD" stroke-width="1.6" stroke-linejoin="round" stroke-linecap="round"/>
<polyline points="268.60,480.90 327.16,507.40 356.44,508.80 385.72,516.20" fill="none" stroke="#E38A12" stroke-width="1.6" stroke-linejoin="round" stroke-linecap="round"/>
<polyline points="268.60,480.90 327.16,514.60 356.44,521.80 385.72,531.50" fill="none" stroke="#5C9F36" stroke-width="1.6" stroke-linejoin="round" stroke-linecap="round"/>
<line x1="297.88" y1="502.50" x2="297.88" y2="509.90" stroke="#0B62DD" stroke-width="1.1"/>
<line x1="295.38" y1="502.50" x2="300.38" y2="502.50" stroke="#0B62DD" stroke-width="1.1"/>
<line x1="295.38" y1="509.90" x2="300.38" y2="509.90" stroke="#0B62DD" stroke-width="1.1"/>
<line x1="327.16" y1="504.60" x2="327.16" y2="513.80" stroke="#0B62DD" stroke-width="1.1"/>
<line x1="324.66" y1="504.60" x2="329.66" y2="504.60" stroke="#0B62DD" stroke-width="1.1"/>
<line x1="324.66" y1="513.80" x2="329.66" y2="513.80" stroke="#0B62DD" stroke-width="1.1"/>
<line x1="385.72" y1="512.70" x2="385.72" y2="518.70" stroke="#0B62DD" stroke-width="1.1"/>
<line x1="383.22" y1="512.70" x2="388.22" y2="512.70" stroke="#0B62DD" stroke-width="1.1"/>
<line x1="383.22" y1="518.70" x2="388.22" y2="518.70" stroke="#0B62DD" stroke-width="1.1"/>
<line x1="327.16" y1="500.40" x2="327.16" y2="514.40" stroke="#E38A12" stroke-width="1.1"/>
<line x1="324.66" y1="500.40" x2="329.66" y2="500.40" stroke="#E38A12" stroke-width="1.1"/>
<line x1="324.66" y1="514.40" x2="329.66" y2="514.40" stroke="#E38A12" stroke-width="1.1"/>
<line x1="356.44" y1="502.80" x2="356.44" y2="514.80" stroke="#E38A12" stroke-width="1.1"/>
<line x1="353.94" y1="502.80" x2="358.94" y2="502.80" stroke="#E38A12" stroke-width="1.1"/>
<line x1="353.94" y1="514.80" x2="358.94" y2="514.80" stroke="#E38A12" stroke-width="1.1"/>
<line x1="385.72" y1="511.40" x2="385.72" y2="521.00" stroke="#E38A12" stroke-width="1.1"/>
<line x1="383.22" y1="511.40" x2="388.22" y2="511.40" stroke="#E38A12" stroke-width="1.1"/>
<line x1="383.22" y1="521.00" x2="388.22" y2="521.00" stroke="#E38A12" stroke-width="1.1"/>
<line x1="327.16" y1="510.00" x2="327.16" y2="519.20" stroke="#5C9F36" stroke-width="1.1"/>
<line x1="324.66" y1="510.00" x2="329.66" y2="510.00" stroke="#5C9F36" stroke-width="1.1"/>
<line x1="324.66" y1="519.20" x2="329.66" y2="519.20" stroke="#5C9F36" stroke-width="1.1"/>
<line x1="356.44" y1="517.50" x2="356.44" y2="526.10" stroke="#5C9F36" stroke-width="1.1"/>
<line x1="353.94" y1="517.50" x2="358.94" y2="517.50" stroke="#5C9F36" stroke-width="1.1"/>
<line x1="353.94" y1="526.10" x2="358.94" y2="526.10" stroke="#5C9F36" stroke-width="1.1"/>
<line x1="385.72" y1="527.30" x2="385.72" y2="535.70" stroke="#5C9F36" stroke-width="1.1"/>
<line x1="383.22" y1="527.30" x2="388.22" y2="527.30" stroke="#5C9F36" stroke-width="1.1"/>
<line x1="383.22" y1="535.70" x2="388.22" y2="535.70" stroke="#5C9F36" stroke-width="1.1"/>
<rect x="266.40" y="478.70" width="4.4" height="4.4" fill="#0B62DD"/>
<rect x="295.68" y="504.00" width="4.4" height="4.4" fill="#0B62DD"/>
<rect x="324.96" y="507.00" width="4.4" height="4.4" fill="#0B62DD"/>
<rect x="383.52" y="513.50" width="4.4" height="4.4" fill="#0B62DD"/>
<polygon points="266.20,483.05 271.00,483.05 268.60,478.75" fill="#E38A12"/>
<polygon points="324.76,509.55 329.56,509.55 327.16,505.25" fill="#E38A12"/>
<polygon points="354.04,510.95 358.84,510.95 356.44,506.65" fill="#E38A12"/>
<polygon points="383.32,518.35 388.12,518.35 385.72,514.05" fill="#E38A12"/>
<circle cx="268.60" cy="480.90" r="2.3" fill="#5C9F36"/>
<circle cx="327.16" cy="514.60" r="2.3" fill="#5C9F36"/>
<circle cx="356.44" cy="521.80" r="2.3" fill="#5C9F36"/>
<circle cx="385.72" cy="531.50" r="2.3" fill="#5C9F36"/>
<circle cx="356.60" cy="497.70" r="1.4" fill="#E9A035"/>
<circle cx="385.90" cy="493.10" r="1.4" fill="#E9A035"/>
<circle cx="385.90" cy="504.20" r="1.4" fill="#3482E4"/>
<line x1="408.80" y1="495.20" x2="431.20" y2="495.20" stroke="#E38A12" stroke-width="1.5"/>
<polygon points="417.60,497.00 422.40,497.00 420.00,492.80" fill="#E38A12"/>
<text x="435.10" y="497.60" font-size="7.6" text-anchor="start" fill="#1a1a1a" textLength="29.60" lengthAdjust="spacingAndGlyphs" >ibrutinib</text>
<line x1="408.80" y1="507.40" x2="431.20" y2="507.40" stroke="#0B62DD" stroke-width="1.5"/>
<rect x="418.00" y="505.40" width="4.0" height="4.0" fill="#0B62DD"/>
<text x="435.10" y="509.80" font-size="7.6" text-anchor="start" fill="#1a1a1a" textLength="26.80" lengthAdjust="spacingAndGlyphs" >ACY738</text>
<line x1="408.80" y1="519.60" x2="431.20" y2="519.60" stroke="#5C9F36" stroke-width="1.5"/>
<circle cx="420.00" cy="519.60" r="2.2" fill="#5C9F36"/>
<text x="435.10" y="522.00" font-size="7.6" text-anchor="start" fill="#1a1a1a" textLength="73.40" lengthAdjust="spacingAndGlyphs" >ibrutinib + ACY 0.5uM</text>
</svg>
</body></html>
